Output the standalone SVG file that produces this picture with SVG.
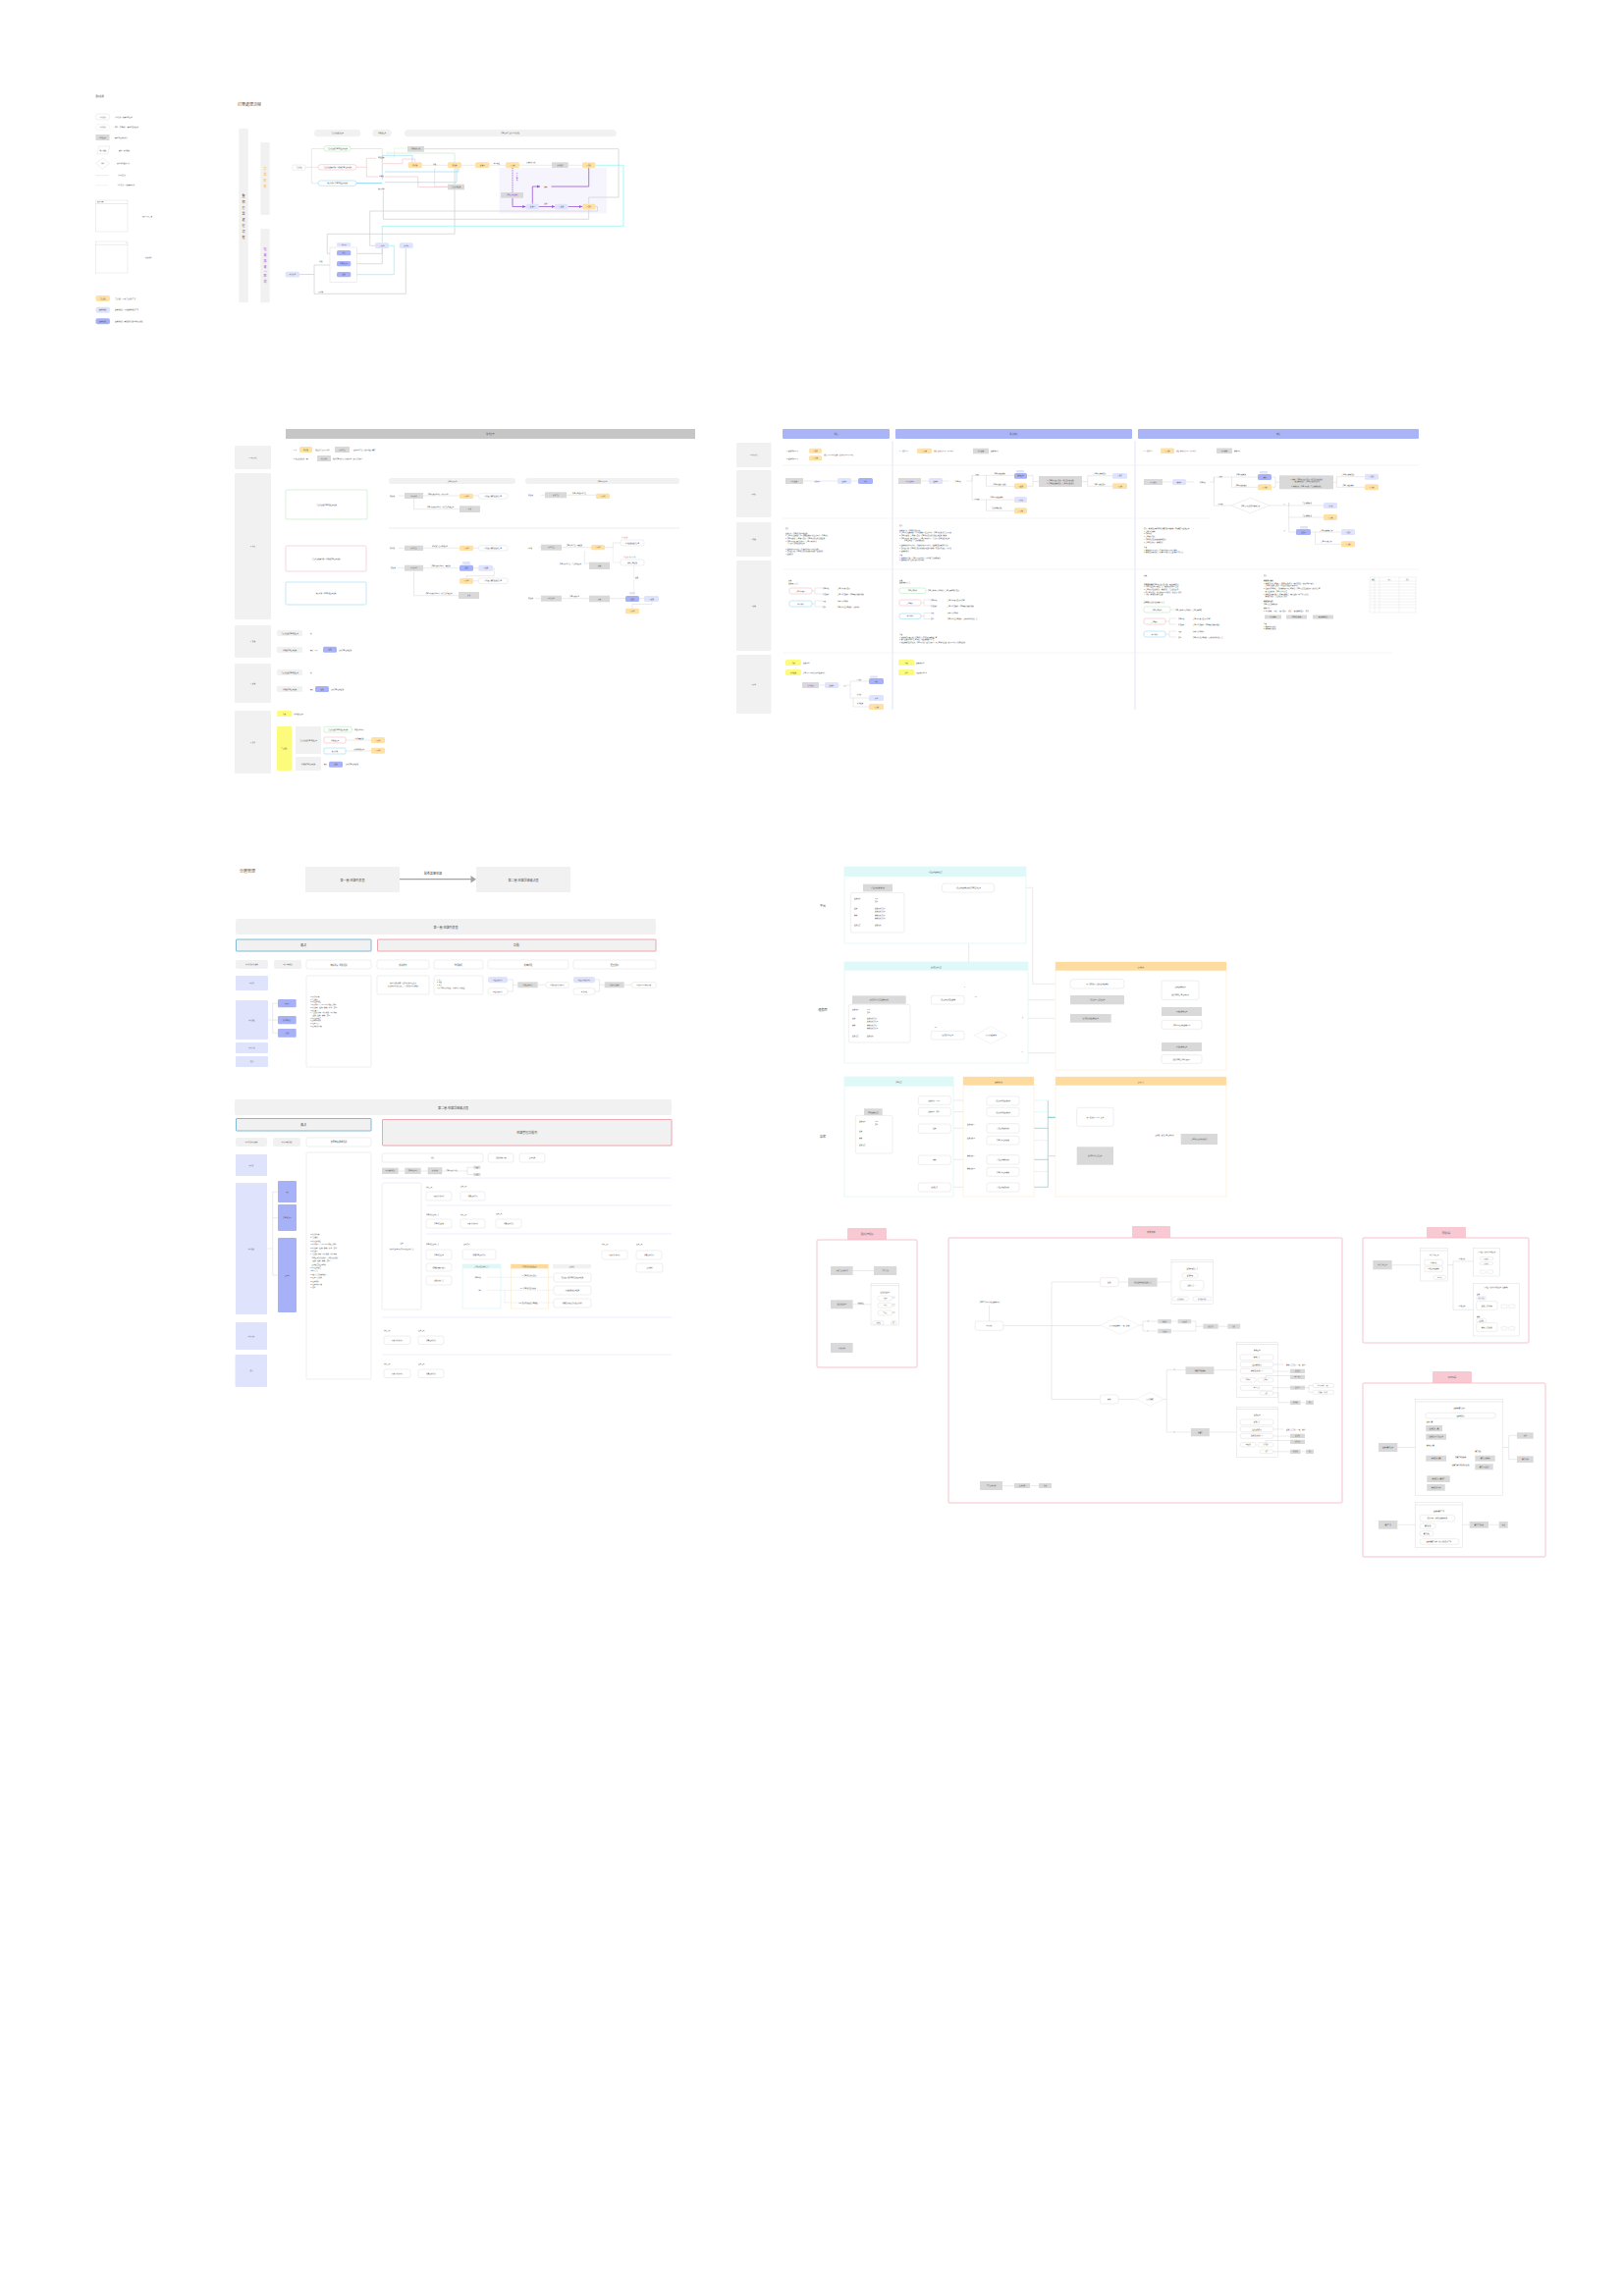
<svg xmlns="http://www.w3.org/2000/svg" width="1653" height="2339" viewBox="0 0 1653 2339">
<style>
text{font-family:"Liberation Sans","Noto Sans CJK TC",sans-serif;fill:#555}
.f1{font-size:1.6px}.f2{font-size:2.1px}.f3{font-size:3px}.f4{font-size:4px}.f5{font-size:4.8px}
.c{text-anchor:middle}
.gb{fill:#d9d9d9}.lg{fill:#f1f1f1}.or{fill:#fee1a3}.lp{fill:#dfe3fc}.pp{fill:#a7b1f8}.ye{fill:#fdfb7c}
.ow{fill:#fff;stroke:#d4d4d4;stroke-width:.4}
.win{fill:#fff;stroke:#d6d6d6;stroke-width:.4}
.ln{fill:none;stroke:#c9c9c9;stroke-width:.4}
.lnt{fill:none;stroke:#d3d3d3;stroke-width:.8}
.dash{stroke-dasharray:1 .7}
.gr{fill:none;stroke:#bfe8c0;stroke-width:.6}
.rd{fill:none;stroke:#f6bcc4;stroke-width:.6}
.bl{fill:none;stroke:#8fd5f3;stroke-width:.6}
.cy{fill:none;stroke:#86f3f1;stroke-width:.7}
.pu{fill:none;stroke:#9a57d6;stroke-width:.8}
.tl{fill:none;stroke:#43bdbd;stroke-width:.5}
.pk{fill:none;stroke:#f0b8f0;stroke-width:.5}
.og{fill:#fff;stroke:#a8dfa9;stroke-width:.45}
.orr{fill:#fff;stroke:#f4a8b3;stroke-width:.45}
.ob{fill:#fff;stroke:#7fcdf0;stroke-width:.45}
.vt{writing-mode:vertical-rl;letter-spacing:3px}
</style>
<defs>
<marker id="a" viewBox="0 0 6 6" refX="6" refY="3" markerWidth="4" markerHeight="4" orient="auto"><path d="M0,0L6,3L0,6z" fill="#bbb"/></marker>
<marker id="ap" viewBox="0 0 6 6" refX="6" refY="3" markerWidth="4" markerHeight="4" orient="auto"><path d="M0,0L6,3L0,6z" fill="#9a57d6"/></marker>
<marker id="at" viewBox="0 0 6 6" refX="6" refY="3" markerWidth="4" markerHeight="4" orient="auto"><path d="M0,0L6,3L0,6z" fill="#1aa9a9"/></marker>
</defs>
<rect width="1653" height="2339" fill="#fff"/>

<g id="legend">
<text x="97.5" y="98.5" class="f2">圖例說明</text>
<rect x="97.5" y="116" width="14" height="6" rx="2.5" class="ow"/><text x="104.5" y="119.6" class="f1 c">流程節點</text><text x="117" y="119.6" class="f1">流程節點，無需系統處理</text>
<rect x="97.5" y="126.7" width="14" height="6" rx="2.5" class="ow dash"/><text x="104.5" y="130.3" class="f1 c">流程節點</text><text x="117" y="130.3" class="f1">客戶／店家操作，需系統協助處理</text>
<rect x="97.5" y="137" width="14" height="6" class="gb"/><text x="104.5" y="140.6" class="f1 c">系統處理</text><text x="117" y="140.6" class="f1">需系統處理的動作</text>
<polygon points="98.5,157 101,149 112,149 109.5,157" class="ow"/><text x="105" y="153.6" class="f1 c">輸入/輸出</text><text x="121" y="153.6" class="f1">資料、文件輸出</text>
<polygon points="97.5,166.5 104.5,161 111.5,166.5 104.5,172" class="ow"/><text x="104.5" y="167.1" class="f1 c">判斷</text><text x="119" y="167.1" class="f1">條件判斷後的流向</text>
<line x1="97.5" y1="178.7" x2="111" y2="178.7" class="ln"/><text x="120" y="179.3" class="f1">流程的走向</text>
<line x1="97.5" y1="188.7" x2="111" y2="188.7" class="ln dash"/><text x="119.5" y="189.3" class="f1">流程走向，可依需求調整</text>
<rect x="97.5" y="204" width="32.5" height="32" class="win"/><line x1="97.5" y1="207.5" x2="130" y2="207.5" class="ln"/><text x="99" y="206.4" class="f1">頁面名稱</text>
<text x="145" y="221" class="f1">頁面/介面示意</text>
<rect x="97.5" y="246" width="32.5" height="32" class="win"/><line x1="97.5" y1="249.3" x2="130" y2="249.3" class="ln"/><text x="128" y="248.3" class="f1">×</text>
<text x="148" y="263" class="f1">彈出視窗</text>
<rect x="97.5" y="301" width="14.5" height="6" rx="2" class="or"/><text x="104.7" y="304.6" class="f1 c">訂單狀態</text><text x="117" y="304.6" class="f1">訂單狀態，可依訂單狀態查詢</text>
<rect x="97.5" y="312.7" width="14.5" height="6" rx="2" class="lp"/><text x="104.7" y="316.3" class="f1 c">退換貨狀態</text><text x="117" y="316.3" class="f1">退換貨狀態，可依退換貨狀態查詢</text>
<rect x="97.5" y="324.3" width="14.5" height="6" rx="2" class="pp"/><text x="104.7" y="327.9" class="f1 c">退換貨狀態</text><text x="117" y="327.9" class="f1">退換貨狀態，需後台確認後才能變更狀態</text>
</g>

<g id="flow1-frame">
<text x="242" y="108" class="f4">打單處理流程</text>
<rect x="243.3" y="130.7" width="9.5" height="177.6" rx="1" class="lg"/>
<text x="248" y="198" class="f3 vt" fill="#333">整個打單處理流程</text>
<rect x="265.3" y="145" width="9.4" height="74" rx="1" class="lg"/>
<text x="270" y="170" class="f3 vt" style="fill:#f0b14a">訂單紀錄</text>
<rect x="265.3" y="233" width="9.4" height="75.3" rx="1" class="lg"/>
<text x="270" y="252" class="f3 vt" style="fill:#9a57d6">退貨換貨/取消</text>
<rect x="320" y="132" width="47.3" height="7.3" rx="3.6" class="lg"/><text x="343.6" y="136.4" class="f1 c">訂單成立後的處理</text>
<rect x="379.3" y="132" width="19.4" height="7.3" rx="3.6" class="lg"/><text x="389" y="136.4" class="f1 c">付款後處理</text>
<rect x="412" y="132" width="215.7" height="7.3" rx="3.6" class="lg"/><text x="519.8" y="136.4" class="f1 c">店家處理訂單的流程與狀態</text>
<rect x="508.5" y="171" width="109.5" height="46.3" fill="#f6f5fe"/>
</g>

<g id="flow1-connectors">
<path class="ln" d="M311,170.5H317.3M317.3,151.5V186.7M317.3,151.5H330M317.3,170.3H324M317.3,186.7H324"/>
<path class="ln" d="M429.8,168.3H456M470,168.3H484M498.4,168.3H515M529,168.3H562M578.8,168.3H593"/>
<path class="lnt" d="M432,151.7H630V201H599.7V207.7"/>
<path class="lnt" d="M606.5,210.5H608.5V215H376.7V250.3H382"/>
<path class="lnt" d="M390.3,194V223.3H599.7V213.3"/>
<path class="lnt" d="M463,171V238.3H333.3V258.3H389.3V253"/>
<path class="ln" d="M442.6,171V190H456"/>
<path class="lnt" d="M305,279.5H320M320,270V299.3M320,270H336M320,299.3H413.3V253"/>
<path class="lnt" d="M357.3,268.7H389.3V253"/>
<path class="gr" d="M357,151.5H389.3V158.5"/>
<path class="gr dash" d="M393,160H401.7V151H415"/>
<path class="gr" d="M393,156H463V165.7"/>
<path class="rd" d="M363,170.3H373.3M373.3,161.3V180M373.3,161.3H383M373.3,180H385"/>
<path class="rd" d="M390,166.7H410V162H422.7V165"/>
<path class="rd" d="M392,180H425.7V190.5H456"/>
<path class="bl" style="stroke-width:1" d="M363,186.7H389.3"/>
<path class="bl" d="M389.3,183V158.3H420V165"/>
<path class="bl" d="M392,185.7H465V171"/>
<path class="bl" d="M392,175H467V171"/>
<path class="cy" d="M606.5,168.3H635V230.3H389.3V247.3"/>
<path class="cy" d="M357.3,279.7H401.3V250.3H396"/>
<path class="pu" marker-end="url(#ap)" d="M522,201.7V210.5H535.5"/>
<path class="pu" marker-end="url(#ap)" d="M549,210.5H565"/>
<path class="pu" marker-end="url(#ap)" d="M578.5,210.5H593"/>
<path class="pu" marker-end="url(#ap)" d="M542.3,207.7V190H550"/>
<path class="pu" d="M561.5,190H599.7V171"/>
<path class="pu dash" d="M522,171V196"/>
</g>

<g id="flow1-nodes">
<rect x="298" y="168" width="13" height="5.3" rx="1" class="ow"/><text x="304.5" y="171.2" class="f1 c">訂單成立</text>
<rect x="330" y="148.7" width="27" height="5.3" rx="2.5" class="og"/><text x="343.5" y="151.9" class="f1 c">訂單成立後店家直接處理出貨</text>
<rect x="324" y="167.7" width="39" height="5.3" rx="2.5" class="orr"/><text x="343.5" y="170.9" class="f1 c">訂單成立後需付款，付款後店家處理出貨</text>
<rect x="324" y="184" width="39" height="5.3" rx="2.5" class="ob"/><text x="343.5" y="187.2" class="f1 c">貨到付款，店家直接處理出貨</text>
<text x="385" y="160.8" class="f1">直接出貨</text><text x="386" y="179.6" class="f1">付款後</text><text x="385" y="192.8" class="f1">貨到付款</text>
<rect x="415" y="149" width="17" height="5.7" class="gb"/><text x="423.5" y="152.4" class="f1 c">付款期限到期</text>
<rect x="415.6" y="165.3" width="14.2" height="5.6" rx="1.5" class="or"/><text x="422.7" y="168.6" class="f1 c">待付款</text>
<text x="442.6" y="167.6" class="f1 c">付款</text>
<rect x="456" y="165.3" width="14" height="5.6" rx="1.5" class="or"/><text x="463" y="168.6" class="f1 c">待出貨</text>
<rect x="484" y="165.3" width="14.4" height="5.6" rx="1.5" class="or"/><text x="491.2" y="168.6" class="f1 c">出貨中</text>
<text x="506" y="166.5" class="f1 c">物流配送</text>
<rect x="515" y="165.3" width="14" height="5.6" rx="1.5" class="or"/><text x="522" y="168.6" class="f1 c">已到貨</text>
<text x="540.6" y="166" class="f1 c">到貨期限到期</text>
<rect x="562" y="165.3" width="16.8" height="5.6" class="gb"/><text x="570.4" y="168.6" class="f1 c">自動完成</text>
<rect x="593" y="165.3" width="13.5" height="5.6" rx="1.5" class="or"/><text x="599.7" y="168.6" class="f1 c">已完成</text>
<rect x="456" y="187.7" width="17" height="5.6" class="gb"/><text x="464.5" y="191" class="f1 c">訂單取消退款</text>
<text x="526" y="176" class="f1 vt" style="letter-spacing:0;fill:#9a57d6">申請退換貨</text>
<rect x="510" y="196" width="23" height="5.7" class="gb"/><text x="521.5" y="199.4" class="f1 c" style="fill:#9a57d6">店家處理退換貨</text>
<rect x="535.5" y="207.7" width="13.5" height="5.6" rx="1.5" class="lp"/><text x="542.2" y="211" class="f1 c">退貨中</text>
<text x="555.8" y="208" class="f1 c">退款</text>
<rect x="565" y="207.7" width="13.5" height="5.6" rx="1.5" class="lp"/><text x="571.7" y="211" class="f1 c">已退款</text>
<rect x="593" y="207.7" width="13.5" height="5.6" rx="1.5" class="or"/><text x="599.7" y="211" class="f1 c">已完成</text>
<text x="555.8" y="190.6" class="f1 c">換貨</text>
<rect x="382" y="247.3" width="14" height="5.7" rx="1.5" class="lp"/><text x="389" y="250.7" class="f1 c">已取消</text>
<rect x="406.7" y="247.3" width="14" height="5.7" rx="1.5" class="lp"/><text x="413.7" y="250.7" class="f1 c">取消中</text>
<rect x="336" y="252" width="27.3" height="35.3" class="ow"/>
<rect x="343" y="247.3" width="14.3" height="3.7" rx="1" class="lp"/><text x="350.1" y="249.7" class="f1 c">申請中</text>
<rect x="343" y="255" width="14.3" height="5.3" rx="1.5" class="pp"/><text x="350.1" y="258.2" class="f1 c">審核</text>
<rect x="343" y="266" width="14.3" height="5.3" rx="1.5" class="pp"/><text x="350.1" y="269.2" class="f1 c">店家確認中</text>
<rect x="343" y="277" width="14.3" height="5.3" rx="1.5" class="pp"/><text x="350.1" y="280.2" class="f1 c">退款</text>
<rect x="290.7" y="276.7" width="14.3" height="5.7" rx="1.5" class="lp"/><text x="297.8" y="280.1" class="f1 c">申請取消</text>
<text x="326.7" y="266.5" class="f1 c">付款</text><text x="326.7" y="297.5" class="f1 c">未付款</text>
</g>

<g id="panel-cancel">
<rect x="291" y="437" width="417" height="10" class="gb" style="fill:#c6c6c6"/><text x="499.5" y="443" class="f2 c">取消訂單</text>
<rect x="239" y="454" width="37" height="24" rx="1" class="lg"/><text x="257.5" y="466.7" class="f1 c">1. 申請階段</text>
<rect x="239" y="482" width="37" height="149" rx="1" class="lg"/><text x="257.5" y="557" class="f1 c">2. 審核</text>
<rect x="239" y="637" width="37" height="33" rx="1" class="lg"/><text x="257.5" y="654" class="f1 c">3. 備貨</text>
<rect x="239" y="676" width="37" height="40" rx="1" class="lg"/><text x="257.5" y="696.5" class="f1 c">4. 出貨</text>
<rect x="239" y="724" width="37" height="64" rx="1" class="lg"/><text x="257.5" y="756.5" class="f1 c">5. 其他</text>
<text x="299" y="458.5" class="f1">1. 在</text><rect x="305" y="455" width="13" height="6" rx="1.5" class="or"/><text x="311.5" y="458.5" class="f1 c">待付款</text>
<text x="321" y="458.5" class="f1">狀態的訂單可以取消</text><rect x="341" y="455" width="15" height="6" class="gb"/><text x="348.5" y="458.5" class="f1 c">取消訂單</text>
<text x="358" y="458.5" class="f1">→ 立即取消訂單，並自動退回庫存</text>
<text x="299" y="467.5" class="f1">2. 除上述狀態外，需</text><rect x="323" y="464" width="14" height="6" class="gb"/><text x="330" y="467.5" class="f1 c">申請取消</text>
<text x="339" y="467.5" class="f1">後由店家審核是否同意取消，並可說明原因</text>
<rect x="291" y="499" width="83" height="30" rx="1" class="og"/><text x="332.5" y="514.6" class="f1 c">訂單成立後店家直接處理出貨</text>
<rect x="291" y="556" width="82" height="26" rx="1" class="orr"/><text x="332" y="569.6" class="f1 c">訂單成立後需付款，付款後店家處理出貨</text>
<rect x="291" y="593" width="82" height="23" rx="1" class="ob"/><text x="332" y="605" class="f1 c">貨到付款，店家直接處理出貨</text>
<rect x="396" y="487" width="129" height="6" rx="3" class="lg"/><text x="460.5" y="490.6" class="f1 c">買家申請取消</text>
<rect x="535" y="487" width="157" height="6" rx="3" class="lg"/><text x="613.5" y="490.6" class="f1 c">店家申請取消</text>
<line x1="396" y1="538" x2="692" y2="538" stroke="#ececec" stroke-width="1"/>
<path class="ln" d="M406,505H412M431,505H468M482,505H487M421.5,508V518.7H468"/>
<text x="397" y="505.5" class="f1">待出貨</text>
<rect x="412" y="502" width="19" height="6" class="gb"/><text x="421.5" y="505.5" class="f1 c">申請取消</text>
<text x="446" y="503.5" class="f1 c">店家同意取消申請，即可取消</text>
<rect x="468" y="502.7" width="14" height="5.4" rx="1.5" class="or"/><text x="475" y="506" class="f1 c">已取消</text>
<rect x="487.3" y="502.7" width="30" height="5.4" rx="2.5" class="ow"/><text x="502.3" y="506" class="f1 c">自動退回庫存並通知買家</text>
<text x="448.5" y="517" class="f1 c">店家不同意取消申請，則訂單繼續處理</text>
<rect x="468" y="515.3" width="21" height="6.7" class="gb"/><text x="478.5" y="519.2" class="f1 c">拒絕</text>
<path class="ln" d="M551,504.3H555M577,504.3H607"/>
<text x="538" y="505" class="f1">待出貨</text>
<rect x="555" y="501.3" width="22" height="6" class="gb"/><text x="566" y="504.9" class="f1 c">取消訂單</text>
<text x="590" y="502.7" class="f1 c">店家可直接取消訂單</text>
<rect x="607" y="502.7" width="14" height="5.3" rx="1.5" class="or"/><text x="614" y="506" class="f1 c">已取消</text>
<path class="ln" d="M406,558.3H412M431,558.3H468M482,558.3H487"/>
<text x="397" y="559" class="f1">待付款</text>
<rect x="412" y="555.7" width="19" height="5.3" class="gb"/><text x="421.5" y="558.9" class="f1 c">取消訂單</text>
<text x="448" y="557" class="f1 c">待付款訂單可直接取消</text>
<rect x="468" y="555.7" width="14" height="5.3" rx="1.5" class="or"/><text x="475" y="558.9" class="f1 c">已取消</text>
<rect x="487.3" y="555.7" width="30" height="5.3" rx="2.5" class="ow"/><text x="502.3" y="558.9" class="f1 c">自動退回庫存並通知買家</text>
<path class="ln" d="M405,578.7H412M431,578.7H468M482,578.7H487M502,578.7H503.3V586.7H475V589M482,591.8H487M421.5,581.7V606.7H467"/>
<text x="398" y="579" class="f1">待出貨</text>
<rect x="412" y="575.7" width="19" height="6" class="gb"/><text x="421.5" y="579.3" class="f1 c">申請取消</text>
<text x="449" y="576.5" class="f1 c">店家同意取消申請，需退款</text>
<rect x="471" y="572" width="8" height="3" rx="1" class="lp"/>
<rect x="468" y="575.7" width="14" height="6" rx="1.5" class="pp"/><text x="475" y="579.3" class="f1 c">退款</text>
<rect x="487.3" y="575.7" width="14.7" height="6" rx="1.5" class="lp"/><text x="494.7" y="579.3" class="f1 c">已退款</text>
<rect x="468" y="589" width="14" height="5.7" rx="1.5" class="or"/><text x="475" y="592.4" class="f1 c">已取消</text>
<rect x="487.3" y="589" width="30" height="5.7" rx="2.5" class="ow"/><text x="502.3" y="592.4" class="f1 c">自動退回庫存並通知買家</text>
<text x="447" y="605" class="f1 c">店家不同意取消申請，則訂單繼續處理</text>
<rect x="467" y="603" width="21" height="7" class="gb"/><text x="477.5" y="607" class="f1 c">拒絕</text>
<path class="ln" d="M549,557.7H551M572,557.7H602M616,557.7H624.3V553H632M595.3,561V574H600"/>
<path class="ln dash" d="M624.3,557.7V573H632M645.7,576V607"/>
<text x="537" y="558.5" class="f1">已付款</text>
<rect x="551" y="554.7" width="21" height="6" class="gb"/><text x="561.5" y="558.3" class="f1 c">取消訂單</text>
<text x="585" y="555.5" class="f1 c">店家取消訂單，需退款</text>
<rect x="602" y="555" width="14" height="5.3" rx="1.5" class="or"/><text x="609" y="558.2" class="f1 c">已取消</text>
<text x="633" y="548.3" class="f1" style="fill:#f08aa0">自動退款</text>
<rect x="632" y="550" width="24" height="6" rx="2" class="ow"/><text x="644" y="553.6" class="f1 c">自動退款並通知買家</text>
<text x="634" y="568.2" class="f1"><tspan style="fill:#f08aa0">手動退款</tspan> <tspan style="fill:#5cb8e8">貨到付款</tspan></text>
<rect x="632" y="570" width="24" height="6" rx="2" class="ow"/><text x="644" y="573.6" class="f1 c">聯絡買家退款</text>
<text x="581" y="575" class="f1 c">店家未取消訂單，訂單繼續處理</text>
<rect x="600" y="572.7" width="21" height="7.3" class="gb"/><text x="610.5" y="576.8" class="f1 c">出貨</text>
<text x="647" y="589" class="f1">退款</text>
<path class="ln" d="M545,609.7H551M572,609.7H600M621,609.7H637M651,609.7H656M664,613V615.5H644V619.7"/>
<text x="538" y="610.3" class="f1">待出貨</text>
<rect x="551" y="606.7" width="21" height="6" class="gb"/><text x="561.5" y="610.3" class="f1 c">申請取消</text>
<text x="585" y="608" class="f1 c">店家同意取消</text>
<rect x="600" y="606.7" width="21" height="6.6" class="gb"/><text x="610.5" y="610.6" class="f1 c">同意</text>
<rect x="641" y="603" width="6" height="2.5" rx=".8" class="lp"/>
<rect x="637" y="607" width="14" height="6" rx="1.5" class="pp"/><text x="644" y="610.6" class="f1 c">退款</text>
<rect x="656" y="607" width="15" height="6" rx="1.5" class="lp"/><text x="663.5" y="610.6" class="f1 c">已退款</text>
<rect x="637" y="619.7" width="14" height="5.6" rx="1.5" class="or"/><text x="644" y="623" class="f1 c">已取消</text>
<rect x="282" y="642" width="26" height="6" rx="1" class="lg"/><text x="295" y="645.6" class="f1 c">訂單成立後店家直接處理</text><text x="316" y="645.6" class="f1">無</text>
<rect x="282" y="659" width="26" height="6" rx="1" class="lg"/><text x="295" y="662.6" class="f1 c">付款後店家處理出貨</text><text x="316" y="662.6" class="f1">需要，可以</text>
<rect x="329" y="658.7" width="14" height="6" rx="1.5" class="pp"/><text x="336" y="662.3" class="f1 c">退款</text><text x="345" y="662.6" class="f1">須由店家處理退款</text>
<rect x="282" y="682" width="26" height="6" rx="1" class="lg"/><text x="295" y="685.6" class="f1 c">訂單成立後店家直接處理</text><text x="316" y="685.6" class="f1">無</text>
<rect x="282" y="699" width="26" height="6" rx="1" class="lg"/><text x="295" y="702.6" class="f1 c">付款後店家處理出貨</text><text x="316" y="702.6" class="f1">需要</text>
<rect x="321" y="699" width="14" height="6" rx="1.5" class="pp"/><text x="328" y="702.6" class="f1 c">退款</text><text x="337" y="702.6" class="f1">須由店家處理退款</text>
<rect x="282" y="724" width="15" height="6" rx="1.5" class="ye"/><text x="289.5" y="727.6" class="f1 c">注意</text><text x="299" y="727.6" class="f1">取消後的處理</text>
<rect x="282" y="740" width="15" height="45" rx="1" class="ye"/><text x="289.5" y="763" class="f1 c">訂單狀態</text>
<rect x="301" y="740" width="26" height="28" class="lg"/><text x="314" y="754.6" class="f1 c">訂單成立後店家直接處理</text>
<rect x="301" y="771" width="26" height="14" class="lg"/><text x="314" y="778.6" class="f1 c">付款後店家處理出貨</text>
<path class="ln" d="M358,743.2H360M352,754H378M352,765H378"/>
<rect x="330" y="740.3" width="28" height="5.7" rx="1" class="og"/><text x="344" y="743.8" class="f1 c">訂單成立後店家直接處理出貨</text><text x="361" y="743.8" class="f1">直接取消即可</text>
<rect x="330" y="751" width="22" height="6" rx="1" class="orr"/><text x="341" y="754.6" class="f1 c">付款後處理</text><text x="365.5" y="752.8" class="f1 c">已付款需退款</text>
<rect x="378" y="751" width="14" height="6" rx="1.5" class="or"/><text x="385" y="754.6" class="f1 c">已取消</text>
<rect x="330" y="762" width="22" height="6" rx="1" class="ob"/><text x="341" y="765.6" class="f1 c">貨到付款</text><text x="365.5" y="763.8" class="f1 c">未付款直接取消</text>
<rect x="378" y="761.7" width="14" height="6" rx="1.5" class="or"/><text x="385" y="765.3" class="f1 c">已取消</text>
<text x="330" y="779" class="f1">需要</text><rect x="335" y="775.7" width="14" height="6" rx="1.5" class="pp"/><text x="342" y="779.3" class="f1 c">退款</text><text x="352" y="779" class="f1">須由店家處理退款</text>
</g>

<g id="panel-return">
<rect x="797" y="437" width="109" height="10" rx="1" fill="#aab5f8"/><text x="851.5" y="443" class="f2 c">退貨</text>
<rect x="912" y="437" width="241" height="10" rx="1" fill="#aab5f8"/><text x="1032.5" y="443" class="f2 c">退貨換貨</text>
<rect x="1159" y="437" width="286" height="10" rx="1" fill="#aab5f8"/><text x="1302" y="443" class="f2 c">換貨</text>
<rect x="750" y="451" width="35.5" height="25" rx="1" class="lg"/><text x="767.7" y="464" class="f1 c">1 申請階段</text>
<rect x="750" y="479" width="35.5" height="48" rx="1" class="lg"/><text x="767.7" y="503.5" class="f1 c">2 審核</text>
<rect x="750" y="532" width="35.5" height="35" rx="1" class="lg"/><text x="767.7" y="550" class="f1 c">3 備貨</text>
<rect x="750" y="571" width="35.5" height="92" rx="1" class="lg"/><text x="767.7" y="617.5" class="f1 c">4 出貨</text>
<rect x="750" y="667" width="35.5" height="60" rx="1" class="lg"/><text x="767.7" y="697.5" class="f1 c">5 取消</text>
<path d="M909,449V723M1156,449V723" stroke="#c9d0fa" stroke-width=".6"/>
<path d="M797,474H1445M797,528H1233M797,580H1445M797,665H1418" stroke="#efefef" stroke-width=".6"/>
<text x="801" y="460" class="f1">1. 退貨時間內 ⇒</text><rect x="824" y="456.7" width="13" height="5" rx="1.5" class="or"/><text x="830.5" y="459.8" class="f1 c">已完成</text>
<text x="801" y="468" class="f1">2. 退貨時間內 ⇒</text><rect x="824" y="464.3" width="13" height="5" rx="1.5" class="or"/><text x="830.5" y="467.4" class="f1 c">已到貨</text>
<text x="839" y="463.6" class="f1">狀態下可以申請退貨，<tspan style="fill:#e85a6a">退貨期限</tspan>內可以申請</text>
<path class="ln" d="M818,490H853M867,490H874"/>
<rect x="800" y="487" width="18" height="6" class="gb"/><text x="809" y="490.6" class="f1 c">申請退貨</text>
<text x="829.5" y="490.6" class="f1" style="fill:#9a57d6">退貨原因</text>
<rect x="853" y="487" width="14" height="6" rx="1.5" class="lp"/><text x="860" y="490.6" class="f1 c">退貨中</text>
<rect x="874" y="487" width="15" height="6" rx="1.5" class="pp"/><text x="881.5" y="490.6" class="f1 c">審核</text>
<text x="800" y="539" class="f1">備註</text>
<text x="800" y="543.5" class="f1">退貨流程：店家確認後才能退款</text>
<text x="800" y="546.3" class="f1">1. 買家申請退貨後，可以填寫退貨原因與上傳圖片，店家審核</text>
<text x="800" y="549" class="f1">2. 店家同意後，買家寄回商品，店家收到商品確認後退款</text>
<text x="800" y="551.7" class="f1">3. 店家不同意，需說明原因，買家可再次申請</text>
<text x="800" y="554.4" class="f1">　 或是由平台客服協助處理</text>
<text x="800" y="559.5" class="f1">a. 退貨期限內可申請，超過期限則不可申請退貨</text>
<text x="800" y="562.2" class="f1">b. 商品退回後，店家確認商品無誤後才退款，退貨完成</text>
<text x="800" y="564.9" class="f1">c. 退貨完成</text>
<text x="803" y="591.5" class="f1">出貨</text><text x="803" y="594.5" class="f1">退貨寄回方式</text>
<path class="ln" d="M827,602H830V599H838M830,602V605H838M827,615H830V612H838M830,615V618H838"/>
<rect x="804" y="599" width="23" height="6" rx="2" class="orr"/><text x="815.5" y="602.6" class="f1 c">買家自行寄回</text>
<text x="838" y="599.5" class="f1">店家地址</text><text x="853" y="599.5" class="f1">買家自行寄回商品</text>
<text x="838" y="605.5" class="f1">超商寄件</text><text x="853" y="605.5" class="f1">買家至超商寄件，店家需提供寄件編號</text>
<rect x="804" y="612" width="23" height="6" rx="2" class="ob"/><text x="815.5" y="615.6" class="f1 c">物流收件</text>
<text x="838" y="612.5" class="f1">宅配</text><text x="853" y="612.5" class="f1">由物流到府收件</text>
<text x="838" y="618.5" class="f1">其他</text><text x="853" y="618.5" class="f1">店家自行與買家聯絡，安排收件</text>
<rect x="800" y="672" width="16" height="6" rx="1.5" class="ye"/><text x="808" y="675.6" class="f1 c">注意</text><text x="818" y="675.6" class="f1">退貨取消</text>
<rect x="800" y="682" width="16" height="6" rx="1.5" class="ye"/><text x="808" y="685.6" class="f1 c">取消退貨</text><text x="818" y="685.6" class="f1">買家可以在審核前取消退貨申請</text>
<path class="ln" d="M834,698H840M854,698H856M862,698H866V694H885M866,698V711H885M869,711V720H885"/>
<rect x="817" y="695" width="17" height="6" class="gb"/><text x="825.5" y="698.6" class="f1 c" style="fill:#9a57d6">取消退貨</text>
<rect x="840" y="695" width="14" height="6" rx="1.5" class="lp"/><text x="847" y="698.6" class="f1 c">退貨中</text>
<text x="859" y="698.6" class="f1">是否</text>
<text x="875" y="693.3" class="f1 c">已審核</text><rect x="886" y="688.5" width="8" height="2.3" rx=".8" class="lp"/>
<rect x="885" y="691" width="15" height="6" rx="1.5" class="pp"/><text x="892.5" y="694.6" class="f1 c">審核</text>
<text x="875" y="707.5" class="f1 c">未審核</text>
<rect x="885" y="708" width="15" height="6" rx="1.5" class="lp"/><text x="892.5" y="711.6" class="f1 c">取消</text>
<text x="876" y="716.5" class="f1 c">取消退貨</text>
<rect x="885" y="717" width="15" height="6" rx="1.5" class="or"/><text x="892.5" y="720.6" class="f1 c">已到貨</text>
<text x="916" y="460" class="f1">1. 已完成 ⇒</text><rect x="934" y="456.7" width="15" height="5.3" rx="1.5" class="or"/><text x="941.5" y="460" class="f1 c">已到貨</text>
<text x="951" y="460" class="f1">狀態 <tspan style="fill:#e85a6a">退貨期限</tspan> 內，可以申請</text>
<rect x="991" y="456.7" width="16" height="5.6" class="gb"/><text x="999" y="460" class="f1 c">申請退換</text>
<text x="1009" y="460" class="f1">退換貨申請</text>
<path class="ln" d="M938,490H946M960,490H967M984,490H990V484.3V509M990,484.3H1004.5V495.3H1033M1004.5,484.3H1033M990,509H1004.5V520.3H1033M1004.5,509H1033M1046,484.3H1052V495.3H1046M1052,490.5H1058M1102,490.5H1107.7V484.7H1133M1107.7,490.5V495.3H1133"/>
<rect x="915" y="487" width="23" height="6" class="gb"/><text x="926.5" y="490.6" class="f1 c" style="fill:#9a57d6">申請退換貨</text>
<rect x="946" y="487" width="14" height="6" rx="1.5" class="lp"/><text x="953" y="490.6" class="f1 c">退換中</text>
<text x="976" y="490.6" class="f1 c">店家審核</text>
<text x="995" y="483.8" class="f1 c">同意</text><text x="995" y="508.5" class="f1 c">不同意</text>
<text x="1018" y="482.7" class="f1 c">店家同意退換貨</text><text x="1018" y="493.7" class="f1 c">店家同意並已退款</text>
<rect x="1035" y="479" width="8" height="2.5" rx=".8" class="lp"/>
<rect x="1033" y="482" width="13" height="5.7" rx="1.5" class="pp"/><text x="1039.5" y="485.4" class="f1 c">換貨處理</text>
<rect x="1033" y="492.3" width="13" height="5.7" rx="1.5" class="or"/><text x="1039.5" y="495.7" class="f1 c">已退款</text>
<rect x="1058" y="485" width="44" height="11" class="gb"/><text x="1080" y="489.6" class="f1 c">1. 店家收到退回商品，確認商品無誤後</text><text x="1080" y="492.6" class="f1 c">2. 店家寄出換貨商品，買家收到後完成</text>
<text x="1120" y="482.7" class="f1 c">買家收到換貨商品</text><text x="1120" y="493.7" class="f1 c">店家已寄出商品</text>
<rect x="1133" y="482" width="15" height="5.7" rx="1.5" class="lp"/><text x="1140.5" y="485.4" class="f1 c">已完成</text>
<rect x="1133" y="492.3" width="15" height="5.7" rx="1.5" class="or"/><text x="1140.5" y="495.7" class="f1 c">已到貨</text>
<text x="1015" y="507.3" class="f1 c">店家不同意退換貨</text><text x="1015" y="518.3" class="f1 c">訂單恢復原狀態</text>
<rect x="1033" y="506" width="13" height="6" rx="1.5" class="lp"/><text x="1039.5" y="509.6" class="f1 c">已拒絕</text>
<rect x="1033" y="517.3" width="13" height="6" rx="1.5" class="or"/><text x="1039.5" y="520.9" class="f1 c">已到貨</text>
<text x="916" y="536" class="f1">備註</text>
<text x="916" y="540.5" class="f1">退換貨流程：店家確認後處理</text>
<text x="916" y="543.2" class="f1">1. 買家申請退換貨後，可以填寫原因與上傳圖片，店家審核後決定是否同意</text>
<text x="916" y="545.9" class="f1">2. 店家同意後，買家寄回商品，店家收到商品確認後處理退款或換貨</text>
<text x="916" y="548.6" class="f1">3. 店家不同意，需說明原因，買家可再次申請，或是由平台客服協助處理，</text>
<text x="916" y="551.3" class="f1">　　　店家處理後，訂單恢復原狀態</text>
<text x="916" y="556.4" class="f1">a. 退換貨期限內可申請，超過期限則不可申請，退換貨商品需完整包裝</text>
<text x="916" y="559.1" class="f1">b. 商品退回後，店家確認商品無誤後才退款或換貨，若商品有問題，可拒絕</text>
<text x="916" y="561.8" class="f1">c. 退換貨完成</text>
<text x="916" y="566" class="f1">注意</text>
<text x="916" y="568.5" class="f1">1. 退換貨申請後，買家可以取消申請，取消後訂單恢復原狀</text>
<text x="916" y="571" class="f1">2. 退換貨期間訂單無法進行其他操作</text>
<text x="916" y="591.5" class="f1">出貨</text><text x="916" y="594" class="f1">退換貨寄回方式</text>
<rect x="916" y="599" width="27" height="5.5" rx="2" class="og"/><text x="929.5" y="602.4" class="f1 c">店家到府收件</text>
<text x="945" y="602.4" class="f1">店家安排物流到府收件，買家只需準備好商品</text>
<path class="ln" d="M938,614H941V611H948M941,614V617H948M938,627.5H941V624.5H948M941,627.5V630.5H948"/>
<rect x="916" y="611" width="22" height="6" rx="2" class="orr"/><text x="927" y="614.6" class="f1 c">買家寄回</text>
<text x="948" y="611.5" class="f1">店家地址</text><text x="965" y="611.5" class="f1">買家自行寄回商品至店家</text>
<text x="948" y="617.5" class="f1">超商寄件</text><text x="965" y="617.5" class="f1">買家至超商寄件，店家需提供寄件編號</text>
<rect x="916" y="625" width="22" height="5.5" rx="2" class="ob"/><text x="927" y="628.4" class="f1 c">物流收件</text>
<text x="948" y="625" class="f1">宅配</text><text x="965" y="625" class="f1">由物流到府收件</text>
<text x="948" y="631" class="f1">其他</text><text x="965" y="631" class="f1">店家自行與買家聯絡，安排收件時間與方式</text>
<text x="916" y="647" class="f1">注意</text>
<text x="916" y="649.7" class="f1">1. 退換貨商品寄回後，店家確認，若有問題需聯繫買家</text>
<text x="916" y="652.4" class="f1">2. 寄回運費由店家或買家負擔，依退換貨原因而定</text>
<text x="916" y="655.1" class="f1">3. 如退換貨商品有損壞，店家可拒絕，並說明原因，由買家負擔運費，並可以申請平台客服協助</text>
<rect x="915" y="672" width="16" height="6" rx="1.5" class="ye"/><text x="923" y="675.6" class="f1 c">注意</text><text x="933" y="675.6" class="f1">退換貨取消</text>
<rect x="915" y="682" width="16" height="6" rx="1.5" class="ye"/><text x="923" y="685.6" class="f1 c">取消</text><text x="933" y="685.6" class="f1">同退貨取消流程</text>
<text x="1165" y="459.6" class="f1">1. 已完成 ⇒</text><rect x="1182" y="456.5" width="14" height="5.5" rx="1.5" class="or"/><text x="1189" y="459.8" class="f1 c">已到貨</text>
<text x="1198" y="459.6" class="f1">狀態 <tspan style="fill:#e85a6a">換貨期限</tspan> 內，可以申請</text>
<rect x="1239" y="456.5" width="16" height="5.5" class="gb"/><text x="1247" y="459.8" class="f1 c">申請換貨</text>
<text x="1257" y="459.6" class="f1">換貨申請</text>
<path class="ln" d="M1184,491H1194M1208,491H1216M1232,491H1236.4V486V515M1236.4,486H1254.5V496.3H1281M1254.5,486H1281M1295,486H1299V496.3H1295M1299,491.3H1303M1358,491.3H1361.4V485.7H1390M1361.4,491.3V496.3H1390M1236.4,515H1254M1293,515H1312.7V512V542M1312.7,515H1348M1312.7,527H1348M1312.7,542H1320M1335,542H1339.5V554.3H1366M1339.5,542H1366"/>
<rect x="1165" y="488" width="19" height="6" class="gb"/><text x="1174.5" y="491.6" class="f1 c" style="fill:#9a57d6">申請換貨</text>
<rect x="1194" y="488" width="14" height="6" rx="1.5" class="lp"/><text x="1201" y="491.6" class="f1 c">換貨中</text>
<text x="1225" y="491.6" class="f1 c">店家審核</text>
<text x="1243" y="485.5" class="f1 c">同意</text>
<text x="1264" y="484.4" class="f1 c">店家同意換貨</text><text x="1264" y="495" class="f1 c">店家同意並寄出</text>
<rect x="1283" y="480" width="8" height="2.5" rx=".8" class="lp"/>
<rect x="1281" y="483" width="14" height="6" rx="1.5" class="pp"/><text x="1288" y="486.6" class="f1 c">換貨</text>
<rect x="1281" y="493.3" width="14" height="6" rx="1.5" class="or"/><text x="1288" y="496.9" class="f1 c">已到貨</text>
<rect x="1303" y="484.3" width="55" height="14" class="gb"/><text x="1330.5" y="488.5" class="f1 c">1. 換貨：店家收到退回商品，確認商品無誤後</text><text x="1330.5" y="491.3" class="f1 c">　寄出換貨商品，買家收到後確認完成</text><text x="1330.5" y="495.5" class="f1 c">2. 換貨失敗：店家不同意，訂單恢復原狀態</text>
<text x="1373" y="484.2" class="f1 c">買家收到換貨商品</text><text x="1373" y="495" class="f1 c">店家已寄出換貨</text>
<rect x="1390" y="482.7" width="14" height="6" rx="1.5" class="lp"/><text x="1397" y="486.3" class="f1 c">已完成</text>
<rect x="1390" y="493.3" width="14" height="6" rx="1.5" class="or"/><text x="1397" y="496.9" class="f1 c">已到貨</text>
<text x="1243" y="514.4" class="f1 c">不同意</text>
<polygon points="1254,515 1273.5,507.3 1293,515 1273.5,522.7" class="ow"/><text x="1273.5" y="515.6" class="f1 c">店家是否提供其他換貨方案</text>
<text x="1308" y="514.4" class="f1 c">否</text><text x="1308" y="541.4" class="f1 c">是</text>
<text x="1331" y="513.3" class="f1 c">訂單恢復原狀</text><text x="1331" y="525.7" class="f1 c">訂單恢復原狀</text>
<rect x="1348" y="512" width="14" height="6" rx="1.5" class="lp"/><text x="1355" y="515.6" class="f1 c">已拒絕</text>
<rect x="1348" y="524" width="14" height="6" rx="1.5" class="or"/><text x="1355" y="527.6" class="f1 c">已到貨</text>
<rect x="1324" y="536" width="8" height="2.5" rx=".8" class="lp"/>
<rect x="1320" y="539" width="15" height="6" rx="1.5" class="pp"/><text x="1327.5" y="542.6" class="f1 c">協商中</text>
<text x="1351" y="540.7" class="f1 c">買家同意換貨方案</text><text x="1351" y="552.3" class="f1 c">買家不同意方案</text>
<rect x="1366" y="539" width="14" height="6" rx="1.5" class="lp"/><text x="1373" y="542.6" class="f1 c">已完成</text>
<rect x="1366" y="551.3" width="14" height="6" rx="1.5" class="or"/><text x="1373" y="554.9" class="f1 c">已到貨</text>
<text x="1165" y="539" class="f1">備註：換貨商品需店家確認庫存後才能換貨，若無庫存可退款處理</text>
<text x="1165" y="541.7" class="f1">1. 買家申請換貨</text>
<text x="1165" y="544.4" class="f1">2. 店家審核</text>
<text x="1165" y="547.1" class="f1">3. 買家寄回商品</text>
<text x="1165" y="549.8" class="f1">4. 店家確認商品並寄出換貨商品</text>
<text x="1165" y="552.5" class="f1">5. 買家確認收到，換貨完成</text>
<text x="1165" y="558" class="f1">注意</text>
<text x="1165" y="560.7" class="f1">1. 換貨期限內可申請，超過期限則不可申請換貨</text>
<text x="1165" y="563.4" class="f1">2. 換貨商品需同款式，如需不同款式請先退貨再重新下單</text>
<text x="1165" y="587" class="f1">出貨</text>
<text x="1165" y="595.5" class="f1"><tspan font-weight="bold">店家寄出換貨</tspan> 店家收到退回商品後，寄出換貨商品</text>
<text x="1165" y="598.2" class="f1">1. 店家可選擇物流寄送方式，寄出後更新物流單號</text>
<text x="1165" y="600.9" class="f1">2. 買家收到商品後確認，換貨完成，訂單狀態更新</text>
<text x="1165" y="603.6" class="f1">3. 若買家未確認，依到貨期限自動完成，狀態為已完成</text>
<text x="1165" y="606.3" class="f1">4. 注意：換貨商品寄回運費</text>
<text x="1165" y="614" class="f1"><tspan font-weight="bold">買家寄回方式</tspan> 同退貨寄回方式</text>
<path class="ln" d="M1192,621H1196M1187,633H1191V630H1198M1191,633V636H1198M1187,646H1191V643H1198M1191,646V649H1198"/>
<rect x="1165" y="618" width="27" height="6" rx="2" class="og"/><text x="1178.5" y="621.6" class="f1 c">店家到府收件</text><text x="1197" y="621.6" class="f1">店家安排物流到府收件，買家只需準備</text>
<rect x="1165" y="630" width="22" height="6" rx="2" class="orr"/><text x="1176" y="633.6" class="f1 c">買家寄回</text>
<text x="1200" y="630.5" class="f1">店家地址</text><text x="1215" y="630.5" class="f1">買家自行寄回商品至店家</text>
<text x="1200" y="636.5" class="f1">超商寄件</text><text x="1215" y="636.5" class="f1">買家至超商寄件，店家需提供寄件編號</text>
<rect x="1165" y="643" width="22" height="6" rx="2" class="ob"/><text x="1176" y="646.6" class="f1 c">物流收件</text>
<text x="1200" y="643.5" class="f1">宅配</text><text x="1215" y="643.5" class="f1">由物流到府收件</text>
<text x="1200" y="649.5" class="f1">其他</text><text x="1215" y="649.5" class="f1">店家自行與買家聯絡，安排收件時間與方式</text>
<text x="1287" y="587" class="f1">備註</text>
<text x="1287" y="592" class="f1" font-weight="bold">換貨寄回規則</text>
<text x="1287" y="594.7" class="f1">1. 換貨商品由買家寄回，店家收到後確認，寄出新商品，並更新物流資訊</text>
<text x="1287" y="597.4" class="f1">　買家收到後確認完成，若商品有問題可再次申請</text>
<text x="1287" y="600.1" class="f1">2. 運費由店家負擔，或依換貨原因由買家負擔，店家可設定運費規則，並告知買家</text>
<text x="1287" y="602.8" class="f1">　寄回運費規則，店家可自行設定</text>
<text x="1287" y="605.5" class="f1">3. 換貨商品需同款式，若需更換款式，需先退貨，再重新下單購買</text>
<text x="1287" y="608.2" class="f1">　換貨完成後，訂單狀態為已完成</text>
<text x="1287" y="613" class="f1" font-weight="bold">換貨期限設定</text>
<text x="1287" y="615.7" class="f1">店家可設定換貨期限</text>
<text x="1287" y="620" class="f1">換貨流程</text>
<text x="1287" y="622.7" class="f1">1. 申請換貨 → 審核 → 寄回商品 → 確認 → 寄出換貨商品 → 完成</text>
<rect x="1288" y="626.5" width="17" height="4" class="gb"/><text x="1296.5" y="629.2" class="f1 c">申請換貨</text>
<rect x="1310" y="626.5" width="21" height="4" class="gb"/><text x="1320.5" y="629.2" class="f1 c">店家確認換貨</text>
<rect x="1337" y="626.5" width="21" height="4" class="gb"/><text x="1347.5" y="629.2" class="f1 c">寄出換貨商品</text>
<text x="1287" y="636" class="f1">注意</text>
<text x="1287" y="638.7" class="f1">1. 換貨期限內申請</text>
<text x="1287" y="641.4" class="f1">2. 換貨需同款商品</text>
<g stroke="#d6d6d6" stroke-width=".3" fill="none">
<rect x="1395" y="588" width="47" height="36"/>
<path d="M1395,592H1442M1395,595H1442M1395,598H1442M1395,601H1442M1395,604H1442M1395,607H1442M1395,610H1442M1395,613H1442M1395,616H1442M1395,619H1442M1400,588V624M1405,588V624M1425,588V624"/>
</g>
<text x="1397" y="591" class="f1">編號</text><text x="1415" y="591" class="f1 c">項目</text><text x="1433" y="591" class="f1 c">說明</text>
</g>

<g id="layer-overview">
<text x="244" y="888.5" class="f4">分層管理</text>
<rect x="311" y="883" width="96" height="26" class="lg"/><text x="359" y="897.7" class="f3 c" fill="#333">第一層-申請列表頁</text>
<line x1="407" y1="895.7" x2="480" y2="895.7" stroke="#a3a3a3" stroke-width="1.2"/><polygon points="479.5,892 485,895.7 479.5,899.4" fill="#a3a3a3"/>
<text x="441" y="890.5" class="f3 c" fill="#333">點擊某筆申請</text>
<rect x="485" y="883" width="96" height="26" class="lg"/><text x="533" y="897.7" class="f3 c" fill="#333">第二層-申請詳細資訊頁</text>
</g>

<g id="layer1">
<rect x="240" y="936" width="428" height="16" rx="2" class="lg"/><text x="454" y="945.5" class="f3 c" fill="#333">第一層-申請列表頁</text>
<rect x="240.5" y="957" width="137.5" height="12" rx=".5" fill="#f1f1f1" stroke="#72b2d3" stroke-width=".9"/><text x="309" y="964.3" class="f3 c">資訊</text>
<rect x="384.5" y="957" width="283.5" height="12" rx=".5" fill="#f1f1f1" stroke="#ec9ca8" stroke-width=".9"/><text x="526" y="964.3" class="f3 c">功能</text>
<rect x="240" y="978" width="33" height="9" rx="2" class="lg"/><text x="256.5" y="983.1" class="f1 c">申請者與申請資料</text>
<rect x="279" y="978" width="28" height="9" rx="2" class="lg"/><text x="293" y="983.1" class="f1 c">申請內容狀態</text>
<rect x="312" y="978" width="66" height="9" rx="2" class="ow"/><text x="345" y="983.5" class="f2 c" fill="#333">申請列表 重點資訊</text>
<rect x="384" y="978" width="53" height="9" rx="2" class="ow"/><text x="410.5" y="983.5" class="f2 c" fill="#333">狀態排序</text>
<rect x="442" y="978" width="50" height="9" rx="2" class="ow"/><text x="467" y="983.5" class="f2 c" fill="#333">時間篩選</text>
<rect x="497" y="978" width="82" height="9" rx="2" class="ow"/><text x="538" y="983.5" class="f2 c" fill="#333">批量處理</text>
<rect x="584" y="978" width="84" height="9" rx="2" class="ow"/><text x="626" y="983.5" class="f2 c" fill="#333">匯出資料</text>
<rect x="240" y="994" width="33" height="15" rx="1" class="lp"/><text x="256.5" y="1002" class="f1 c">申請者</text>
<rect x="240" y="1019" width="33" height="40" rx="1" class="lp"/><text x="256.5" y="1039.6" class="f1 c">申請狀態</text>
<rect x="240" y="1062" width="33" height="11" rx="1" class="lp"/><text x="256.5" y="1068.1" class="f1 c">申請日期</text>
<rect x="240" y="1076" width="33" height="11" rx="1" class="lp"/><text x="256.5" y="1082.1" class="f1 c">備註</text>
<path class="ln" d="M273,1039H277.7M277.7,1022.2V1052.3M277.7,1022.2H283M277.7,1039.2H283M277.7,1052.3H283"/>
<rect x="283" y="1018" width="18.7" height="8.3" rx="1" class="pp"/><text x="292.3" y="1022.8" class="f1 c">審核中</text>
<rect x="283" y="1035" width="18.7" height="8.3" rx="1" class="pp"/><text x="292.3" y="1039.8" class="f1 c">待店家確認</text>
<rect x="283" y="1048" width="18.7" height="8.7" rx="1" class="pp"/><text x="292.3" y="1053" class="f1 c">已完成</text>
<rect x="312" y="994" width="66" height="93" rx="1" class="ow"/>
<text x="316" y="1016" class="f1">1.申請者名稱</text>
<text x="316" y="1018.7" class="f1">2.訂單編號</text>
<text x="316" y="1021.4" class="f1">3.申請處理狀態</text>
<text x="316" y="1024.1" class="f1">4.申請時間(一天內 0-24小時顯示時間)</text>
<text x="316" y="1026.8" class="f1">5.申請類型（退貨、換貨、取消、其他）</text>
<text x="316" y="1029.5" class="f1">6.申請原因</text>
<text x="316" y="1032.2" class="f1">7.訂單商品名稱、申請數量、申請金額</text>
<text x="316" y="1034.9" class="f1">　（退款、退貨、換貨、其他）</text>
<text x="316" y="1037.6" class="f1">8.申請處理進度</text>
<text x="316" y="1040.3" class="f1">9.處理時間期限</text>
<text x="316" y="1043" class="f1">10.處理人員</text>
<text x="316" y="1045.7" class="f1">11.處理結果下載</text>
<rect x="384" y="994" width="53" height="19" rx="1.5" class="ow"/><text x="410.5" y="1002.3" class="f1 c">依申請狀態排序，最新申請排在最前面</text><text x="410.5" y="1005" class="f1 c">未處理的申請優先顯示，已完成的申請排後面</text>
<rect x="442" y="994" width="50" height="19" rx="1.5" class="ow"/><text x="445" y="998.5" class="f1">1. 今天</text><text x="445" y="1001.2" class="f1">2. 本週</text><text x="445" y="1003.9" class="f1">3. 本月</text><text x="445" y="1006.6" class="f1">4.自訂時間區間篩選，可依申請日期篩選</text>
<path class="ln" d="M517,998H522.3V1010H517M522.3,1003.3H527.3M547.7,1003.3H556M606,998H610.7V1010H606M610.7,1003.3H615.7M635.7,1003.3H643.3"/>
<rect x="497" y="995" width="20" height="6.3" rx="2" class="lp"/><text x="507" y="998.7" class="f1 c">勾選多筆申請</text>
<rect x="497" y="1006.7" width="20" height="6.6" rx="2.5" class="ow"/><text x="507" y="1010.5" class="f1 c">全選本頁申請</text>
<rect x="527.3" y="1000.3" width="20.4" height="6" class="gb"/><text x="537.5" y="1003.9" class="f1 c">批量處理申請</text>
<rect x="556" y="1000.7" width="23.3" height="5.6" rx="2" class="ow"/><text x="567.6" y="1004" class="f1 c">批量同意或拒絕申請</text>
<rect x="584" y="995" width="22" height="6.3" rx="2" class="lp"/><text x="595" y="998.7" class="f1 c">勾選要匯出的申請</text>
<rect x="584" y="1006.7" width="22" height="6.6" rx="2.5" class="ow"/><text x="595" y="1010.5" class="f1 c">全部匯出</text>
<rect x="615.7" y="1000.3" width="20" height="6" class="gb"/><text x="625.7" y="1003.9" class="f1 c">匯出申請資料</text>
<rect x="643.3" y="1000.7" width="25" height="5.6" rx="2" class="ow"/><text x="655.8" y="1004" class="f1 c">匯出 Excel 檔案下載</text>
</g>

<g id="layer2">
<rect x="239" y="1120" width="445" height="16" rx="2" class="lg"/><text x="461.5" y="1129.5" class="f3 c" fill="#333">第二層-申請詳細資訊頁</text>
<rect x="240.5" y="1139.5" width="137.5" height="12.5" rx=".5" fill="#f1f1f1" stroke="#72b2d3" stroke-width=".9"/><text x="309" y="1147" class="f3 c">資訊</text>
<rect x="389.5" y="1140.5" width="294.5" height="26.5" rx=".5" fill="#f1f1f1" stroke="#ec9ca8" stroke-width=".9"/><text x="536.7" y="1154.8" class="f3 c">申請管理功能列</text>
<rect x="240" y="1159" width="32" height="9" rx="2" class="lg"/><text x="256" y="1164.1" class="f1 c">申請者與申請資料</text>
<rect x="278" y="1159" width="28" height="9" rx="2" class="lg"/><text x="292" y="1164.1" class="f1 c">申請內容與狀態</text>
<rect x="312" y="1159" width="66" height="9" rx="2" class="ow"/><text x="345" y="1164.3" class="f2 c" fill="#333">各筆申請詳細資訊</text>
<rect x="240" y="1176" width="32" height="22" rx="1" class="lp"/><text x="256" y="1187.6" class="f1 c">申請者</text>
<rect x="240" y="1205" width="32" height="134" rx="1" class="lp"/><text x="256" y="1272.6" class="f1 c">申請狀態</text>
<rect x="240" y="1347" width="32" height="28" rx="1" class="lp"/><text x="256" y="1361.6" class="f1 c">申請日期</text>
<rect x="239.5" y="1380" width="32.5" height="33" rx="1" class="lp"/><text x="256" y="1397.1" class="f1 c">備註</text>
<path class="ln" d="M272,1272H277.7M277.7,1214.3V1299M277.7,1214.3H283M277.7,1240.7H283M277.7,1299H283"/>
<rect x="283" y="1203" width="19" height="22" rx="1" class="pp"/><text x="292.5" y="1214.6" class="f1 c">審核</text>
<rect x="283" y="1227" width="19" height="27" rx="1" class="pp"/><text x="292.5" y="1241.3" class="f1 c">店家確認中</text>
<rect x="283" y="1261" width="19" height="76" rx="1" class="pp"/><text x="292.5" y="1299.6" class="f1 c">處理中</text>
<rect x="312" y="1174" width="66" height="231" rx="1" class="ow"/>
<text x="316" y="1258" class="f1">1.申請者名稱</text>
<text x="316" y="1261.4" class="f1">2.訂單編號</text>
<text x="316" y="1264.8" class="f1">3.申請處理狀態</text>
<text x="316" y="1268.2" class="f1">4.申請時間(一天內 0-24小時顯示時間)</text>
<text x="316" y="1271.6" class="f1">5.申請類型（退貨、換貨、取消、其他）</text>
<text x="316" y="1275" class="f1">6.申請原因</text>
<text x="316" y="1278.4" class="f1">7.訂單商品名稱、申請數量、申請金額</text>
<text x="316" y="1281.8" class="f1">　店家處理說明與附件，買家上傳的照片</text>
<text x="316" y="1285.2" class="f1">　（退款、退貨、換貨、其他）、</text>
<text x="316" y="1288.6" class="f1">　處理進度與處理時間</text>
<text x="316" y="1292" class="f1">8.申請處理進度</text>
<text x="316" y="1295.4" class="f1">9.物流方式</text>
<text x="316" y="1298.8" class="f1">10.寄回方式與寄件資訊</text>
<text x="316" y="1302.2" class="f1">11.處理人員紀錄</text>
<text x="316" y="1305.6" class="f1">12.處理時間</text>
<text x="316" y="1309" class="f1">13.處理結果下載</text>
<text x="316" y="1312.4" class="f1">14.其他</text>
<rect x="389" y="1175" width="103" height="9" rx="2" class="ow"/><text x="440.5" y="1180.2" class="f1 c">審核</text>
<rect x="497" y="1175" width="26" height="9" rx="2" class="ow"/><text x="510" y="1180.2" class="f1 c">訊息與檔案下載</text>
<rect x="529" y="1175" width="26" height="9" rx="2" class="ow"/><text x="542" y="1180.2" class="f1 c">處理紀錄</text>
<path class="ln" d="M405.7,1193H412.3M428.7,1193H436M450,1193H454M466,1193H476M476,1189.2V1196.5M476,1189.2H482.3M476,1196.5H482.3"/>
<rect x="389" y="1189.7" width="16.7" height="6.3" class="gb"/><text x="397.3" y="1193.4" class="f1 c">申請資料確認</text>
<rect x="412.3" y="1189.7" width="16.4" height="6.3" class="gb"/><text x="420.5" y="1193.4" class="f1 c">店家審核申請</text>
<rect x="436" y="1189.7" width="14" height="6.3" class="gb" stroke="#bbb" stroke-width=".3"/><text x="443" y="1193.4" class="f1 c">審核結果</text>
<text x="460" y="1193.4" class="f1 c">店家同意或拒絕</text>
<rect x="482.3" y="1187.7" width="7" height="3" class="gb"/><text x="485.8" y="1189.8" class="f1 c" style="font-size:1.3px">同意</text>
<rect x="482.3" y="1195" width="7" height="3" class="gb"/><text x="485.8" y="1197.1" class="f1 c" style="font-size:1.3px">拒絕</text>
<line x1="389" y1="1200" x2="684" y2="1200" stroke="#dfe2fb" stroke-width=".6"/>
<rect x="389" y="1205" width="40" height="129" rx="1.5" class="ow"/><text x="409" y="1266.6" class="f1 c">處理</text><text x="409" y="1273" class="f1 c">（依申請類型不同有不同的處理方式）</text>
<text x="434" y="1209.5" class="f1">審核工具</text><text x="469" y="1209" class="f1">處理工具</text>
<rect x="434" y="1214" width="26" height="9" rx="2" class="ow"/><text x="447" y="1219.2" class="f1 c">同意或拒絕申請</text>
<rect x="469" y="1214" width="25" height="9" rx="2" class="ow"/><text x="481.5" y="1219.2" class="f1 c">填寫處理說明</text>
<line x1="434" y1="1228" x2="684" y2="1228" stroke="#dfe2fb" stroke-width=".6"/>
<text x="434" y="1237.5" class="f1">店家確認處理方式</text><text x="469" y="1237.5" class="f1">審核工具</text><text x="505" y="1237" class="f1">處理工具</text>
<rect x="434" y="1242" width="26" height="9" rx="2" class="ow"/><text x="447" y="1247.2" class="f1 c">店家確認退貨</text>
<rect x="469" y="1242" width="25" height="9" rx="2" class="ow"/><text x="481.5" y="1247.2" class="f1 c">同意或拒絕申請</text>
<rect x="505" y="1242" width="26" height="9" rx="2" class="ow"/><text x="518" y="1247.2" class="f1 c">填寫處理說明</text>
<line x1="434" y1="1257" x2="684" y2="1257" stroke="#dfe2fb" stroke-width=".6"/>
<text x="434" y="1267.5" class="f1">店家確認處理方式</text><text x="472" y="1267.5" class="f1">處理說明</text>
<rect x="434" y="1273" width="26" height="10" rx="2" class="ow"/><text x="447" y="1278.6" class="f1 c">店家確認處理</text>
<rect x="471" y="1273" width="34" height="10" rx="2" class="ow"/><text x="488" y="1278.6" class="f1 c">填寫店家處理說明</text>
<rect x="434" y="1287" width="26" height="8" rx="2" class="ow"/><text x="447" y="1291.6" class="f1 c">填寫退貨寄回資訊</text>
<rect x="434" y="1300" width="26" height="9" rx="2" class="ow"/><text x="447" y="1305.2" class="f1 c">退款處理方式</text>
<rect x="471" y="1288" width="39" height="45" fill="#fff" stroke="#b9eef0" stroke-width=".4"/>
<rect x="471" y="1288" width="39" height="4.3" fill="#dff7f7"/><text x="490.5" y="1290.8" class="f1 c" style="font-size:1.3px">買家退回商品與寄件方式</text>
<rect x="520.3" y="1288" width="38" height="45" fill="#fff" stroke="#fde0b0" stroke-width=".4"/>
<rect x="520.3" y="1288" width="38" height="4.3" fill="#fed999"/><text x="539.3" y="1290.8" class="f1 c" style="font-size:1.3px">店家確認商品與退款處理</text>
<rect x="563" y="1288" width="39" height="4.3" class="lg"/><text x="582.5" y="1290.8" class="f1 c" style="font-size:1.3px">處理結果</text>
<path class="ln dash" d="M496.7,1301.3H564M496,1314.3H564M514,1314.3V1327H564"/>
<text x="486.7" y="1301.8" class="f1 c">店家地址</text><text x="489" y="1314.8" class="f1 c">物流</text>
<text x="539" y="1299.5" class="f1 c">1. 店家確認收到商品</text><text x="538" y="1312.5" class="f1 c">2-1. 店家確認商品無誤</text><text x="538" y="1327.5" class="f1 c">2-2. 商品有問題與買家聯繫</text>
<rect x="564" y="1297" width="38" height="9" rx="2" class="ow"/><text x="583" y="1302.2" class="f1 c">商品退回後店家確認並處理退款</text>
<rect x="564" y="1310" width="38" height="9" rx="2" class="ow"/><text x="583" y="1315.2" class="f1 c">同意退款並處理退款</text>
<rect x="564" y="1323" width="38" height="9" rx="2" class="ow"/><text x="583" y="1328.2" class="f1 c">填寫商品問題說明並上傳照片</text>
<text x="613" y="1268" class="f1">審核工具</text><text x="648" y="1268" class="f1">處理工具</text>
<rect x="613" y="1274" width="26" height="9" rx="2" class="ow"/><text x="626" y="1279.2" class="f1 c">同意或拒絕申請</text>
<rect x="648" y="1274" width="26" height="9" rx="2" class="ow"/><text x="661" y="1279.2" class="f1 c">填寫處理說明</text>
<rect x="648" y="1287" width="27" height="9" rx="2" class="ow"/><text x="661.5" y="1292.2" class="f1 c">上傳檔案</text>
<line x1="389" y1="1342" x2="684" y2="1342" stroke="#dfe2fb" stroke-width=".6"/>
<text x="391" y="1356" class="f1">審核工具</text><text x="426" y="1355.5" class="f1">處理工具</text>
<rect x="391" y="1361" width="27" height="8.5" rx="2" class="ow"/><text x="404.5" y="1366" class="f1 c">同意或拒絕申請</text>
<rect x="426" y="1361" width="26" height="8.5" rx="2" class="ow"/><text x="439" y="1366" class="f1 c">填寫處理說明</text>
<line x1="389" y1="1380" x2="684" y2="1380" stroke="#dfe2fb" stroke-width=".6"/>
<text x="391" y="1390" class="f1">審核工具</text><text x="426" y="1389.5" class="f1">處理工具</text>
<rect x="391" y="1395" width="27" height="8.5" rx="2" class="ow"/><text x="404.5" y="1400" class="f1 c">同意或拒絕申請</text>
<rect x="426" y="1395" width="26" height="8.5" rx="2" class="ow"/><text x="439" y="1400" class="f1 c">填寫處理說明</text>
</g>

<g id="roles-connectors">
<path class="ln" d="M909,904.3H959M1013,904.3H1051.7V1002.3H1090"/>
<path class="ln" d="M986.7,909V1018.7"/>
<path class="ln" d="M922.7,1018.3H948.3M935.3,1018.3V1054.7H948.3M982,1018.7H1090M982,1054.7H992.3M1026,1054.7H1032M1032,1037.3V1072.7M1032,1037.3H1090M1032,1072.7H1113.3M1113.3,1066.7V1079.3M1113.3,1066.7H1183.3M1113.3,1079.3H1183.3"/>
<path class="ln" d="M1145,1002.3H1164.3M1145,1018.3H1164.3M1164.3,1002.3V1018.3M1164.3,1009.3H1183.3M1131.7,1037.3H1157.7M1157.7,1030.7V1044M1157.7,1030.7H1183.3M1157.7,1044H1183.3"/>
<path class="ln" d="M909,1156H922.3M922.3,1121V1209.3M922.3,1121H935.3M922.3,1132.7H935.3M922.3,1149.3H935.3M922.3,1181.3H935.3M922.3,1209.3H935.3"/>
<path class="ln" d="M968.3,1121H1005M968.3,1132.7H1005M968.3,1149.3H1005M985,1149.3V1161.7H1005M968.3,1181.3H1005M985,1181.3V1193.5H1005M968.3,1209.3H1005"/>
<path class="cy dash" style="stroke-width:.45" d="M1038,1121H1067.3M1038,1132.7H1067.3"/>
<path class="tl" d="M1038,1149.3H1067.3M1038,1181.3H1067.3M1038,1209.3H1067.3M1067.3,1121V1209.3"/>
<path class="pk dash" d="M1038,1161.7H1067.3M1038,1193.5H1067.3"/>
<path class="tl" style="stroke-width:.8" marker-end="url(#at)" d="M1067.3,1138.3H1096.7"/>
<path class="pk" style="stroke-width:.8" d="M1067.3,1177.7H1096.7"/>
<path class="ln" d="M1134,1138.3H1168.3V1177.7H1134M1168.3,1160H1202.7"/>
</g>

<g id="role-platform">
<text x="838" y="924" class="f3 c">平台</text>
<rect x="860" y="883" width="185" height="78" fill="#fff" stroke="#cdf3f3" stroke-width=".5"/>
<rect x="860" y="883" width="185" height="10" fill="#dff8f8"/><text x="952.5" y="889" class="f1 c">平台處理退換貨設定</text>
<rect x="879" y="900.7" width="30" height="7.6" class="gb"/><text x="894" y="905.1" class="f1 c">平台處理退換貨規則</text>
<rect x="959.3" y="900" width="53.4" height="9" rx="3" class="ow"/><text x="986" y="905.2" class="f1 c">平台處理退換貨規則與店家協調處理</text>
<rect x="866.3" y="909.3" width="54.7" height="40.7" rx="2" class="ow"/>
<text x="870" y="915.6" class="f1">退貨期限</text><text x="888" y="915.6" class="f1">- - - 7-15</text><text x="888" y="918.6" class="f1">- - - 其他</text>
<text x="870" y="925.6" class="f1">退貨</text><text x="888" y="925.6" class="f1">- - - 退貨規則說明1</text><text x="888" y="928.6" class="f1">- - - 退貨規則說明2</text>
<text x="870" y="932.6" class="f1">換貨</text><text x="888" y="932.6" class="f1">- - - 換貨規則說明1</text><text x="888" y="935.6" class="f1">- - - 換貨規則說明2</text>
<text x="870" y="943" class="f1">退款設定</text><text x="888" y="943" class="f1">- - - 退款規則</text>
</g>

<g id="role-dealer">
<text x="838" y="1030" class="f3 c">經銷商</text>
<rect x="860" y="980" width="187" height="103" fill="#fff" stroke="#cdf3f3" stroke-width=".5"/>
<rect x="860" y="980" width="187" height="8.7" fill="#dff8f8"/><text x="953.5" y="985.5" class="f1 c">經銷商處理設定</text>
<rect x="868" y="1014.3" width="54.7" height="8.4" class="gb"/><text x="895.3" y="1019" class="f1 c">經銷商自行設定退換貨規則</text>
<rect x="864.3" y="1023.3" width="62.7" height="38.7" rx="2" class="ow"/>
<text x="868" y="1028.5" class="f1">退貨期限</text><text x="880" y="1028.5" class="f1">- - - 7-15</text><text x="880" y="1031.5" class="f1">- - - 其他</text>
<text x="868" y="1038" class="f1">退貨</text><text x="880" y="1038" class="f1">- - - 退貨規則說明 A</text><text x="880" y="1041" class="f1">- - - 退貨規則說明 B</text>
<text x="868" y="1044.5" class="f1">換貨</text><text x="880" y="1044.5" class="f1">- - - 換貨規則說明 A</text><text x="880" y="1047.5" class="f1">- - - 換貨規則說明 B</text>
<text x="868" y="1056" class="f1">退款設定</text><text x="880" y="1056" class="f1">- - - 退款規則</text>
<rect x="948.3" y="1014.3" width="33.7" height="8.7" rx="2" class="ow"/><text x="965.2" y="1019.2" class="f1 c">平台處理經銷商退換貨</text>
<text x="982" y="1006" class="f1">1</text><text x="992.7" y="1016" class="f1">1-1</text><text x="951.7" y="1047" class="f1">1-2</text>
<rect x="948.3" y="1050.3" width="33.7" height="8.7" rx="2" class="ow"/><text x="965.2" y="1055.2" class="f1 c">經銷商自行處理</text>
<polygon points="992.3,1054.7 1009.2,1045.7 1026,1054.7 1009.2,1063.3" fill="#fff" stroke="#e0e0e0" stroke-width=".4"/><text x="1009.2" y="1055.3" class="f1 c">是否同意退換貨</text>
<text x="1040.5" y="1036.8" class="f1">是</text><text x="1040.5" y="1072.2" class="f1">否</text>
</g>

<g id="role-dealer-result">
<rect x="1075" y="980" width="174" height="110" fill="#fff" stroke="#fde6c2" stroke-width=".5"/>
<rect x="1075" y="980" width="174" height="8.7" fill="#fedca0"/><text x="1162" y="985.5" class="f1 c">處理結果</text>
<rect x="1090" y="997.7" width="55" height="9.3" rx="3" class="ow"/><text x="1117.5" y="1003" class="f1 c">由平台客服人員協助處理退換貨</text>
<rect x="1090" y="1014" width="55" height="9.3" class="gb"/><text x="1117.5" y="1019.3" class="f1 c">平台處理人員協助處理</text>
<rect x="1183" y="999" width="38" height="19.3" rx="2" class="ow"/><text x="1202" y="1006" class="f1 c">處理退換貨結果</text><text x="1202" y="1013.5" class="f1 c">通知店家與買家處理結果</text>
<rect x="1090" y="1033" width="41.7" height="8.7" class="gb"/><text x="1110.8" y="1037.9" class="f1 c">經銷商同意退換貨處理</text>
<rect x="1183" y="1026" width="41" height="9" class="gb"/><text x="1203.5" y="1031.2" class="f1 c">同意退換貨處理</text>
<rect x="1183" y="1039.3" width="41" height="9" rx="2" class="ow"/><text x="1203.5" y="1044.5" class="f1 c">店家自行處理退換貨流程</text>
<rect x="1183" y="1062" width="41" height="9" class="gb"/><text x="1203.5" y="1067.2" class="f1 c">拒絕退換貨處理</text>
<rect x="1183" y="1074.7" width="41" height="8.6" rx="2" class="ow"/><text x="1203.5" y="1079.7" class="f1 c">通知店家與買家拒絕原因</text>
</g>

<g id="role-store">
<text x="838" y="1159" class="f3 c">店家</text>
<rect x="860" y="1097" width="111" height="122" fill="#fff" stroke="#cdf3f3" stroke-width=".5"/>
<rect x="860" y="1097" width="111" height="9.7" fill="#dff8f8"/><text x="915.5" y="1102.8" class="f1 c">店家設定</text>
<rect x="880" y="1129.3" width="18.7" height="7.4" class="gb"/><text x="889.3" y="1133.6" class="f1 c">店家退換貨設定</text>
<rect x="871.3" y="1136.3" width="37.7" height="38.7" rx="2" class="ow"/>
<text x="875" y="1143" class="f1">退貨期限</text><text x="888" y="1143" class="f1">- - - 7-15</text><text x="888" y="1146" class="f1">- - - 其他</text>
<text x="875" y="1153" class="f1">退貨</text><text x="875" y="1160" class="f1">換貨</text><text x="875" y="1167" class="f1">退款設定</text>
<rect x="935.3" y="1116.7" width="33" height="8.6" rx="2" class="ow"/><text x="951.8" y="1121.6" class="f1 c">退貨期限（7-15）</text>
<rect x="935.3" y="1128.3" width="33" height="8.7" rx="2" class="ow"/><text x="951.8" y="1133.3" class="f1 c">退貨期限（其他）</text>
<rect x="935.3" y="1145" width="33" height="9.3" rx="2" class="ow"/><text x="951.8" y="1150.3" class="f1 c">退貨</text>
<rect x="935.3" y="1177" width="33" height="9.3" rx="2" class="ow"/><text x="951.8" y="1182.3" class="f1 c">換貨</text>
<rect x="935.3" y="1205" width="33" height="9" rx="2" class="ow"/><text x="951.8" y="1210.2" class="f1 c">退款設定</text>
</g>

<g id="role-store-rules">
<rect x="981" y="1097" width="72" height="122" fill="#fff" stroke="#fde6c2" stroke-width=".5"/>
<rect x="981" y="1097" width="72" height="8.7" fill="#fedca0"/><text x="1017" y="1102.5" class="f1 c">退換貨規則</text>
<text x="985" y="1146" class="f1">退貨規則 A</text><text x="985" y="1159.7" class="f1">退貨規則 B</text>
<text x="985" y="1178" class="f1">換貨規則 A</text><text x="985" y="1190.7" class="f1">換貨規則 B</text>
<rect x="1005" y="1117" width="33" height="9" rx="2" class="ow"/><text x="1021.5" y="1122.2" class="f1 c">平台處理時的退貨期限</text>
<rect x="1005" y="1128.3" width="33" height="9" rx="2" class="ow"/><text x="1021.5" y="1133.5" class="f1 c">平台處理時的退貨期限</text>
<rect x="1005" y="1144.7" width="33" height="9.3" rx="2" class="ow"/><text x="1021.5" y="1150" class="f1 c">平台處理退貨規則</text>
<rect x="1005" y="1157.3" width="33" height="8.7" rx="2" class="ow"/><text x="1021.5" y="1162.3" class="f1 c">店家自行處理退貨</text>
<rect x="1005" y="1176.7" width="33" height="9.3" rx="2" class="ow"/><text x="1021.5" y="1182" class="f1 c">平台處理換貨規則</text>
<rect x="1005" y="1189.3" width="33" height="9" rx="2" class="ow"/><text x="1021.5" y="1194.5" class="f1 c">店家自行處理換貨</text>
<rect x="1005" y="1205" width="33" height="9" rx="2" class="ow"/><text x="1021.5" y="1210.2" class="f1 c">平台處理退款規則</text>
</g>

<g id="role-store-result">
<rect x="1075" y="1097" width="174" height="122" fill="#fff" stroke="#fde6c2" stroke-width=".5"/>
<rect x="1075" y="1097" width="174" height="8.7" fill="#fedca0"/><text x="1162" y="1102.5" class="f1 c">處理方式</text>
<rect x="1096.7" y="1128.3" width="37.3" height="19" rx="2" class="ow"/><text x="1115.3" y="1138.6" class="f1 c">依平台規則（7-15）處理</text>
<rect x="1096.7" y="1168.3" width="37.3" height="18.4" class="gb"/><text x="1115.3" y="1178.3" class="f1 c">依店家自行設定處理</text>
<text x="1186" y="1157" class="f1 c">處理後，通知買家處理結果</text>
<rect x="1202.7" y="1155" width="37.3" height="11" class="gb"/><text x="1221.3" y="1161.2" class="f1 c">買家收到處理結果通知</text>
</g>

<g id="panel-catalog">
<rect x="863" y="1251" width="40" height="12" rx="1" fill="#f8c9d2"/><text x="883" y="1258.3" class="f2 c">目錄訂單紀錄</text>
<rect x="832" y="1263" width="102" height="130" rx="1" fill="#fff" stroke="#f4b4c0" stroke-width=".8"/>
<path class="ln" d="M868.6,1294.5H890M868.6,1328.8H887"/>
<rect x="846" y="1290" width="22.6" height="9" class="gb"/><text x="857.3" y="1295.1" class="f1 c">目錄訂單紀錄列表</text>
<rect x="890" y="1290" width="23.2" height="9" class="gb"/><text x="901.6" y="1295.1" class="f1 c">查看詳細</text>
<rect x="846" y="1324.3" width="22.6" height="9" class="gb"/><text x="857.3" y="1329.4" class="f1 c">選擇篩選條件</text>
<text x="876.5" y="1327.5" class="f1 c">點擊篩選</text>
<rect x="887" y="1307.3" width="28.7" height="42.7" class="win"/><line x1="887" y1="1309.7" x2="915.7" y2="1309.7" class="ln"/>
<text x="901.4" y="1316.5" class="f1 c">選擇篩選條件</text>
<rect x="894" y="1320" width="14.6" height="5" rx="2.5" class="ow"/><text x="901.3" y="1323.1" class="f1 c">一週內</text>
<rect x="894" y="1327.3" width="14.6" height="5" rx="2.5" class="ow"/><text x="901.3" y="1330.4" class="f1 c">一個月</text>
<rect x="894" y="1335" width="14.6" height="5" rx="2.5" class="ow"/><text x="901.3" y="1338.1" class="f1 c">三個月</text>
<rect x="909.8" y="1321" width="1.6" height="1.6" fill="none" stroke="#aaa" stroke-width=".25"/><rect x="909.8" y="1328.5" width="1.6" height="1.6" fill="none" stroke="#aaa" stroke-width=".25"/><rect x="909.8" y="1336.3" width="1.6" height="1.6" fill="none" stroke="#aaa" stroke-width=".25"/>
<rect x="889" y="1345.7" width="11" height="3.6" rx="1" class="ow"/><text x="894.5" y="1348" class="f1 c" style="font-size:1.2px">清除篩選</text>
<rect x="907.5" y="1345.7" width="5.7" height="3.6" rx="1" class="ow"/><text x="910.3" y="1348" class="f1 c" style="font-size:1.2px">確定</text>
<rect x="846" y="1368" width="22.6" height="10" class="gb"/><text x="857.3" y="1373.6" class="f1 c">匯出紀錄</text>
</g>

<g id="panel-review">
<rect x="1153" y="1249" width="39" height="12" rx="1" fill="#f8c9d2"/><text x="1172.5" y="1256.3" class="f2 c">審核流程</text>
<rect x="966" y="1261" width="401" height="270" rx="1" fill="#fff" stroke="#f4b4c0" stroke-width=".8"/>
<path class="ln" d="M1007.5,1330V1346M1021.8,1350.5H1071M1071,1306V1425.5M1071,1306H1120.4M1071,1350.5H1121M1071,1425.5H1120.4M1139,1306H1149M1178.6,1306H1193M1160.4,1350H1164M1164,1346V1356M1164,1346H1179.3M1192.9,1346H1199.6M1164,1356H1179.3M1213.2,1346H1218V1351.2H1225.4M1192.9,1356H1218V1351.2M1240.7,1351.2H1250.4M1139,1425.5H1156.8M1185.4,1425.5H1188.2M1188.2,1395.7V1459M1188.2,1395.7H1207.5M1188.2,1459H1212.9M1236.4,1395.7H1259.3M1231.8,1459H1259.3"/>
<text x="1008" y="1327" class="f1 c">店家查看申請中的退換貨申請</text>
<rect x="993.2" y="1346" width="28.6" height="9.3" rx="2" class="ow"/><text x="1007.5" y="1351.2" class="f1 c">申請審核</text>
<rect x="1120.4" y="1301.7" width="18.6" height="9" rx="2" class="ow"/><text x="1129.7" y="1306.8" class="f1 c">退款</text>
<rect x="1149" y="1301.7" width="29.6" height="9" class="gb"/><text x="1163.8" y="1306.8" class="f1 c">確認退款金額與退款方式</text>
<rect x="1193" y="1283.3" width="42.4" height="45" class="win"/><line x1="1193" y1="1285.7" x2="1235.4" y2="1285.7" class="ln"/>
<text x="1214.2" y="1293.3" class="f1 c">退款金額與方式</text>
<rect x="1204" y="1297" width="16" height="5" rx="2.5" class="ow"/><text x="1212" y="1300.1" class="f1 c">退款金額</text>
<rect x="1202" y="1304.3" width="24" height="10" rx="2.5" class="ow"/><text x="1214" y="1310" class="f1 c">退款方式 + +</text>
<rect x="1194.5" y="1321" width="16" height="4" rx="1.5" class="ow"/><text x="1202.5" y="1323.6" class="f1 c" style="font-size:1.2px">取消退款申請</text>
<rect x="1215" y="1321" width="18.5" height="4" rx="1.5" class="ow"/><text x="1224.2" y="1323.6" class="f1 c" style="font-size:1.2px">確認退款並通知</text>
<polygon points="1121,1350 1140.7,1340.7 1160.4,1350 1140.7,1359.3" fill="#fff" stroke="#e0e0e0" stroke-width=".4"/><text x="1140.7" y="1350.6" class="f1 c">是否同意退換貨（一般／緊急）</text>
<text x="1169" y="1345.5" class="f1 c">是</text><text x="1169" y="1355.5" class="f1 c">否</text>
<rect x="1179.3" y="1344" width="13.6" height="4.3" class="gb"/><text x="1186.1" y="1346.7" class="f1 c" style="font-size:1.2px">填寫說明</text>
<rect x="1199.6" y="1344" width="13.6" height="4.3" class="gb"/><text x="1206.4" y="1346.7" class="f1 c" style="font-size:1.2px">同意處理</text>
<rect x="1179.3" y="1353.7" width="13.6" height="4.6" class="gb"/><text x="1186.1" y="1356.5" class="f1 c" style="font-size:1.2px">拒絕處理</text>
<rect x="1225.4" y="1348.7" width="15.3" height="5" class="gb"/><text x="1233" y="1351.8" class="f1 c" style="font-size:1.2px">通知買家</text>
<rect x="1250.4" y="1348.7" width="12.8" height="5" class="gb"/><text x="1256.8" y="1351.8" class="f1 c" style="font-size:1.2px">完成</text>
<rect x="1120.4" y="1421" width="18.6" height="9" rx="2" class="ow"/><text x="1129.7" y="1426.2" class="f1 c">換貨</text>
<polygon points="1156.8,1425.3 1171.1,1418.3 1185.4,1425.3 1171.1,1432.3" fill="#fff" stroke="#e0e0e0" stroke-width=".4"/><text x="1171.1" y="1425.9" class="f1 c">是否有庫存</text>
<text x="1196" y="1395.2" class="f1 c">是</text><text x="1196" y="1458.5" class="f1 c">否</text>
<rect x="1207.5" y="1392.3" width="28.9" height="7.7" class="gb"/><text x="1222" y="1396.8" class="f1 c">有庫存直接換貨</text>
<rect x="1212.9" y="1455" width="18.9" height="8.3" class="gb"/><text x="1222.3" y="1459.8" class="f1 c">無庫存</text>
<rect x="1259.3" y="1367.3" width="42.1" height="56" class="win"/><line x1="1259.3" y1="1369.5" x2="1301.4" y2="1369.5" class="ln"/>
<text x="1280.3" y="1376.4" class="f1 c">換貨處理</text>
<rect x="1263" y="1380" width="34" height="5.7" rx="2.5" class="ow"/><text x="1280" y="1383.4" class="f1 c">換貨方式</text>
<rect x="1263" y="1387.3" width="34" height="5.4" rx="2.5" class="ow"/><text x="1280" y="1390.6" class="f1 c">選擇換貨商品</text>
<rect x="1263" y="1394.3" width="34" height="5" rx="2.5" class="ow"/><text x="1280" y="1397.4" class="f1 c">換貨商品數量：1</text>
<rect x="1263.2" y="1403.7" width="16.1" height="4.3" rx="2" class="ow"/><text x="1271.2" y="1406.4" class="f1 c" style="font-size:1.2px">店家寄出</text>
<rect x="1281" y="1403.7" width="16" height="4.3" rx="2" class="ow"/><text x="1289" y="1406.4" class="f1 c" style="font-size:1.2px">買家寄回</text>
<rect x="1263" y="1411.3" width="34" height="5" rx="2.5" class="ow"/><text x="1280" y="1414.4" class="f1 c">物流方式</text>
<rect x="1283" y="1417.3" width="14" height="3.7" rx="1.8" class="ow"/><text x="1290" y="1419.7" class="f1 c" style="font-size:1.2px">確定</text>
<path class="ln" d="M1297,1390H1307M1297,1397H1314M1289,1406V1401.5H1314M1297,1413.7H1314M1329,1413.7H1333V1411.5H1337M1333,1413.7V1418.3H1337M1297,1419H1302V1428.8H1314M1324.6,1428.8H1330"/>
<text x="1310" y="1390.5" class="f1">換貨方式說明（一般／急件）</text>
<rect x="1314" y="1394.7" width="15" height="4.3" class="gb"/><text x="1321.5" y="1397.4" class="f1 c" style="font-size:1.2px">選擇商品</text>
<rect x="1314" y="1400.7" width="15" height="4.3" class="gb"/><text x="1321.5" y="1403.4" class="f1 c" style="font-size:1.2px">寄出／寄回</text>
<rect x="1314" y="1411.7" width="15" height="4" class="gb"/><text x="1321.5" y="1414.2" class="f1 c" style="font-size:1.2px">選擇物流</text>
<rect x="1337" y="1409.3" width="21.6" height="4.4" rx="2" class="ow"/><text x="1347.8" y="1412" class="f1 c" style="font-size:1.2px">物流公司寄件（宅配）</text>
<rect x="1337" y="1416.3" width="21.6" height="4" rx="2" class="ow"/><text x="1347.8" y="1418.8" class="f1 c" style="font-size:1.2px">超商寄件（店到店）</text>
<rect x="1314" y="1426.7" width="10.6" height="4.3" class="gb"/><text x="1319.3" y="1429.4" class="f1 c" style="font-size:1.2px">確認換貨</text>
<rect x="1330" y="1426.7" width="8" height="4.3" class="gb"/><text x="1334" y="1429.4" class="f1 c" style="font-size:1.2px">完成</text>
<rect x="1259.3" y="1433.3" width="42.1" height="51" class="win"/><line x1="1259.3" y1="1435.5" x2="1301.4" y2="1435.5" class="ln"/>
<text x="1280.3" y="1442.4" class="f1 c">退款處理</text>
<rect x="1263" y="1446" width="34" height="5.7" rx="2.5" class="ow"/><text x="1280" y="1449.4" class="f1 c">退款方式</text>
<rect x="1263" y="1453.3" width="34" height="5.4" rx="2.5" class="ow"/><text x="1280" y="1456.6" class="f1 c">選擇退款商品</text>
<rect x="1263" y="1460.3" width="34" height="5" rx="2.5" class="ow"/><text x="1280" y="1463.4" class="f1 c">退款商品數量：1</text>
<rect x="1263.2" y="1469.7" width="16.1" height="4.3" rx="2" class="ow"/><text x="1271.2" y="1472.4" class="f1 c" style="font-size:1.2px">全額退款</text>
<rect x="1281" y="1469.7" width="16" height="4.3" rx="2" class="ow"/><text x="1289" y="1472.4" class="f1 c" style="font-size:1.2px">部分退款</text>
<rect x="1283" y="1477" width="14" height="3.7" rx="1.8" class="ow"/><text x="1290" y="1479.4" class="f1 c" style="font-size:1.2px">確定</text>
<path class="ln" d="M1297,1456H1307M1297,1463H1314M1289,1472V1467.5H1314M1297,1478.8H1314M1324.6,1478.8H1330"/>
<text x="1310" y="1456.5" class="f1">退款方式說明（一般／急件）</text>
<rect x="1314" y="1460.7" width="15" height="4.3" class="gb"/><text x="1321.5" y="1463.4" class="f1 c" style="font-size:1.2px">選擇商品</text>
<rect x="1314" y="1466.7" width="15" height="4.3" class="gb"/><text x="1321.5" y="1469.4" class="f1 c" style="font-size:1.2px">退款金額</text>
<rect x="1314" y="1476.7" width="10.6" height="4.3" class="gb"/><text x="1319.3" y="1479.4" class="f1 c" style="font-size:1.2px">確認退款</text>
<rect x="1330" y="1476.7" width="8" height="4.3" class="gb"/><text x="1334" y="1479.4" class="f1 c" style="font-size:1.2px">完成</text>
<path class="ln" d="M1021,1513.7H1033M1049,1513.7H1058"/>
<rect x="998" y="1509" width="23" height="9" class="gb"/><text x="1009.5" y="1514.2" class="f1 c">查看處理紀錄</text>
<rect x="1033" y="1511" width="16" height="5" class="gb"/><text x="1041" y="1514.2" class="f1 c">處理紀錄</text>
<rect x="1058" y="1511" width="13" height="5" class="gb"/><text x="1064.5" y="1514.2" class="f1 c">匯出</text>
</g>

<g id="panel-manage">
<rect x="1453" y="1250" width="40" height="11" rx="1" fill="#f8c9d2"/><text x="1473" y="1257" class="f2 c">管理工具</text>
<rect x="1388" y="1261" width="169" height="107" rx="1" fill="#fff" stroke="#f4b4c0" stroke-width=".8"/>
<path class="ln" d="M1417.7,1288.7H1446.7M1474.3,1288.7H1480M1480,1285V1334.3M1480,1285H1500.7M1480,1334.3H1500.7"/>
<rect x="1398.3" y="1284" width="19.4" height="9.3" class="gb"/><text x="1408" y="1289.2" class="f1 c">申請管理工具</text>
<rect x="1446.7" y="1271.7" width="27.6" height="33.3" class="win"/><line x1="1446.7" y1="1274" x2="1474.3" y2="1274" class="ln"/>
<text x="1460.5" y="1279" class="f1 c">申請管理工具</text>
<rect x="1451" y="1283.3" width="18.3" height="5.7" rx="1" class="ow"/><text x="1460.1" y="1286.7" class="f1 c">批量審核</text>
<rect x="1451" y="1290" width="18.3" height="5.7" rx="1" class="ow"/><text x="1460.1" y="1293.4" class="f1 c">批量處理退換貨</text>
<rect x="1460" y="1299.3" width="12.7" height="4" rx="2" class="ow"/><text x="1466.3" y="1301.9" class="f1 c" style="font-size:1.2px">匯出申請</text>
<text x="1486" y="1282.5" class="f1">批量審核</text><text x="1486" y="1331.3" class="f1">批量處理</text>
<rect x="1500.7" y="1271.7" width="27" height="28.3" class="win"/>
<text x="1514.2" y="1276" class="f1 c">已勾選 7 筆申請批量處理</text>
<rect x="1507" y="1280.7" width="13.7" height="2.6" rx="1.3" class="ow"/><text x="1513.8" y="1282.6" class="f1 c" style="font-size:1.1px">同意申請</text>
<rect x="1507" y="1285.7" width="13.7" height="2.6" rx="1.3" class="ow"/><text x="1513.8" y="1287.6" class="f1 c" style="font-size:1.1px">拒絕申請</text>
<rect x="1507.3" y="1294" width="6" height="3.3" rx="1" class="ow"/><rect x="1515" y="1294" width="5.7" height="3.3" rx="1" class="ow"/>
<rect x="1500.7" y="1307.3" width="46.6" height="53.7" class="win"/>
<text x="1524" y="1312" class="f1 c">已勾選 7 筆申請批量處理（退換貨）</text>
<text x="1504" y="1318.5" class="f1">退貨</text>
<rect x="1503.7" y="1320.7" width="10" height="3.3" rx="1.5" class="ow"/><text x="1508.7" y="1322.8" class="f1 c" style="font-size:1.1px">確認收到商品</text>
<rect x="1503.7" y="1325.7" width="21.3" height="8.6" rx="1.5" class="ow"/><text x="1514.3" y="1330.5" class="f1 c">退款方式與金額</text>
<rect x="1529" y="1329" width="6" height="3.7" rx="1" class="ow"/><rect x="1536.7" y="1329" width="6" height="3.7" rx="1" class="ow"/>
<text x="1504" y="1341.5" class="f1">換貨</text>
<rect x="1503.7" y="1343.3" width="10" height="3.4" rx="1.5" class="ow"/><text x="1508.7" y="1345.5" class="f1 c" style="font-size:1.1px">選擇換貨</text>
<rect x="1503.7" y="1347.7" width="21.3" height="8.6" rx="1.5" class="ow"/><text x="1514.3" y="1352.5" class="f1 c">換貨方式與數量</text>
<rect x="1529" y="1351.7" width="6" height="3.3" rx="1" class="ow"/><rect x="1536.7" y="1351.7" width="6" height="3.3" rx="1" class="ow"/>
</g>

<g id="panel-stock">
<rect x="1459" y="1397" width="40" height="12" rx="1" fill="#f8c9d2"/><text x="1479" y="1404.3" class="f2 c">庫存工具</text>
<rect x="1388" y="1409" width="186" height="177" rx="1" fill="#fff" stroke="#f4b4c0" stroke-width=".8"/>
<path class="ln" d="M1423.3,1474.5H1441.7M1530.7,1474.5H1536.7M1536.7,1462.3V1486.7M1536.7,1462.3H1545M1536.7,1486.7H1545M1473,1485.7H1502.3M1476,1485.7V1494.3H1502.3"/>
<rect x="1404" y="1470" width="19.3" height="9" class="gb"/><text x="1413.6" y="1475.2" class="f1 c">退換貨庫存處理</text>
<rect x="1441.7" y="1425.7" width="89" height="97.6" class="win"/><line x1="1441.7" y1="1428" x2="1530.7" y2="1428" class="ln"/>
<text x="1486" y="1434.7" class="f1 c">退換貨庫存處理</text>
<rect x="1451.7" y="1439.3" width="71.6" height="5.7" rx="2.8" class="ow"/><text x="1487.5" y="1442.7" class="f1 c">退換貨商品</text>
<text x="1452.7" y="1449" class="f1">退貨入庫</text>
<rect x="1452.3" y="1452" width="16.7" height="6.3" class="gb"/><text x="1460.6" y="1455.7" class="f1 c">退貨商品入庫</text>
<rect x="1452.3" y="1460.7" width="20.7" height="6" class="gb"/><text x="1462.6" y="1464.3" class="f1 c">退貨商品不良品處理</text>
<text x="1452.7" y="1472.6" class="f1">換貨出入庫</text>
<rect x="1452.3" y="1482.7" width="20.7" height="6" class="gb"/><text x="1462.6" y="1486.3" class="f1 c">換貨商品出庫</text>
<text x="1487.5" y="1484.7" class="f1 c">有庫存直接換貨</text>
<text x="1487.5" y="1492.7" class="f1 c">無庫存需等待補貨或退款</text>
<text x="1502.3" y="1479.3" class="f1">庫存狀態</text>
<rect x="1502.3" y="1482.7" width="20.4" height="6" class="gb"/><text x="1512.5" y="1486.3" class="f1 c">庫存足夠換貨</text>
<rect x="1502.3" y="1491.3" width="18.4" height="6" class="gb"/><text x="1511.5" y="1494.9" class="f1 c">庫存不足通知</text>
<rect x="1453.3" y="1503.3" width="23.4" height="6.7" class="gb"/><text x="1465" y="1507.2" class="f1 c">換貨商品入庫檢查</text>
<rect x="1453.3" y="1512" width="18.4" height="6.7" class="gb"/><text x="1462.5" y="1515.9" class="f1 c">換貨完成紀錄</text>
<rect x="1545" y="1459.3" width="16.7" height="6.4" class="gb"/><text x="1553.3" y="1463" class="f1 c">更新</text>
<rect x="1545" y="1483.3" width="16.7" height="6.7" class="gb"/><text x="1553.3" y="1487.2" class="f1 c">庫存紀錄</text>
<path class="ln" d="M1423.3,1553.3H1441.7M1489.3,1553.3H1496.7M1516,1553.3H1526.7"/>
<rect x="1404" y="1549" width="19.3" height="8.7" class="gb"/><text x="1413.6" y="1554" class="f1 c">庫存查詢</text>
<rect x="1441.7" y="1530.7" width="47.6" height="46" class="win"/><line x1="1441.7" y1="1533" x2="1489.3" y2="1533" class="ln"/>
<text x="1465.5" y="1539.7" class="f1 c">退換貨庫存查詢</text>
<rect x="1446" y="1543.3" width="35.7" height="6.7" rx="3" class="ow"/><text x="1463.8" y="1547.2" class="f1 c">商品名稱、規格與退換貨數量</text>
<rect x="1446" y="1552" width="16.3" height="5.3" rx="2.6" class="ow"/><text x="1454.1" y="1555.2" class="f1 c">庫存數量</text>
<rect x="1446" y="1559.7" width="14" height="5.3" rx="2.6" class="ow"/><text x="1453" y="1562.9" class="f1 c">庫存狀態</text>
<rect x="1446" y="1567.7" width="40" height="5.6" rx="2.8" class="ow"/><text x="1466" y="1571" class="f1 c">退換貨庫存紀錄（依日期與商品查詢）</text>
<rect x="1496.7" y="1550" width="19.3" height="6.7" class="gb"/><text x="1506.3" y="1553.9" class="f1 c">庫存查詢結果</text>
<rect x="1526.7" y="1550" width="9" height="6.7" class="gb"/><text x="1531.2" y="1553.9" class="f1 c">匯出</text>
</g>
</svg>
